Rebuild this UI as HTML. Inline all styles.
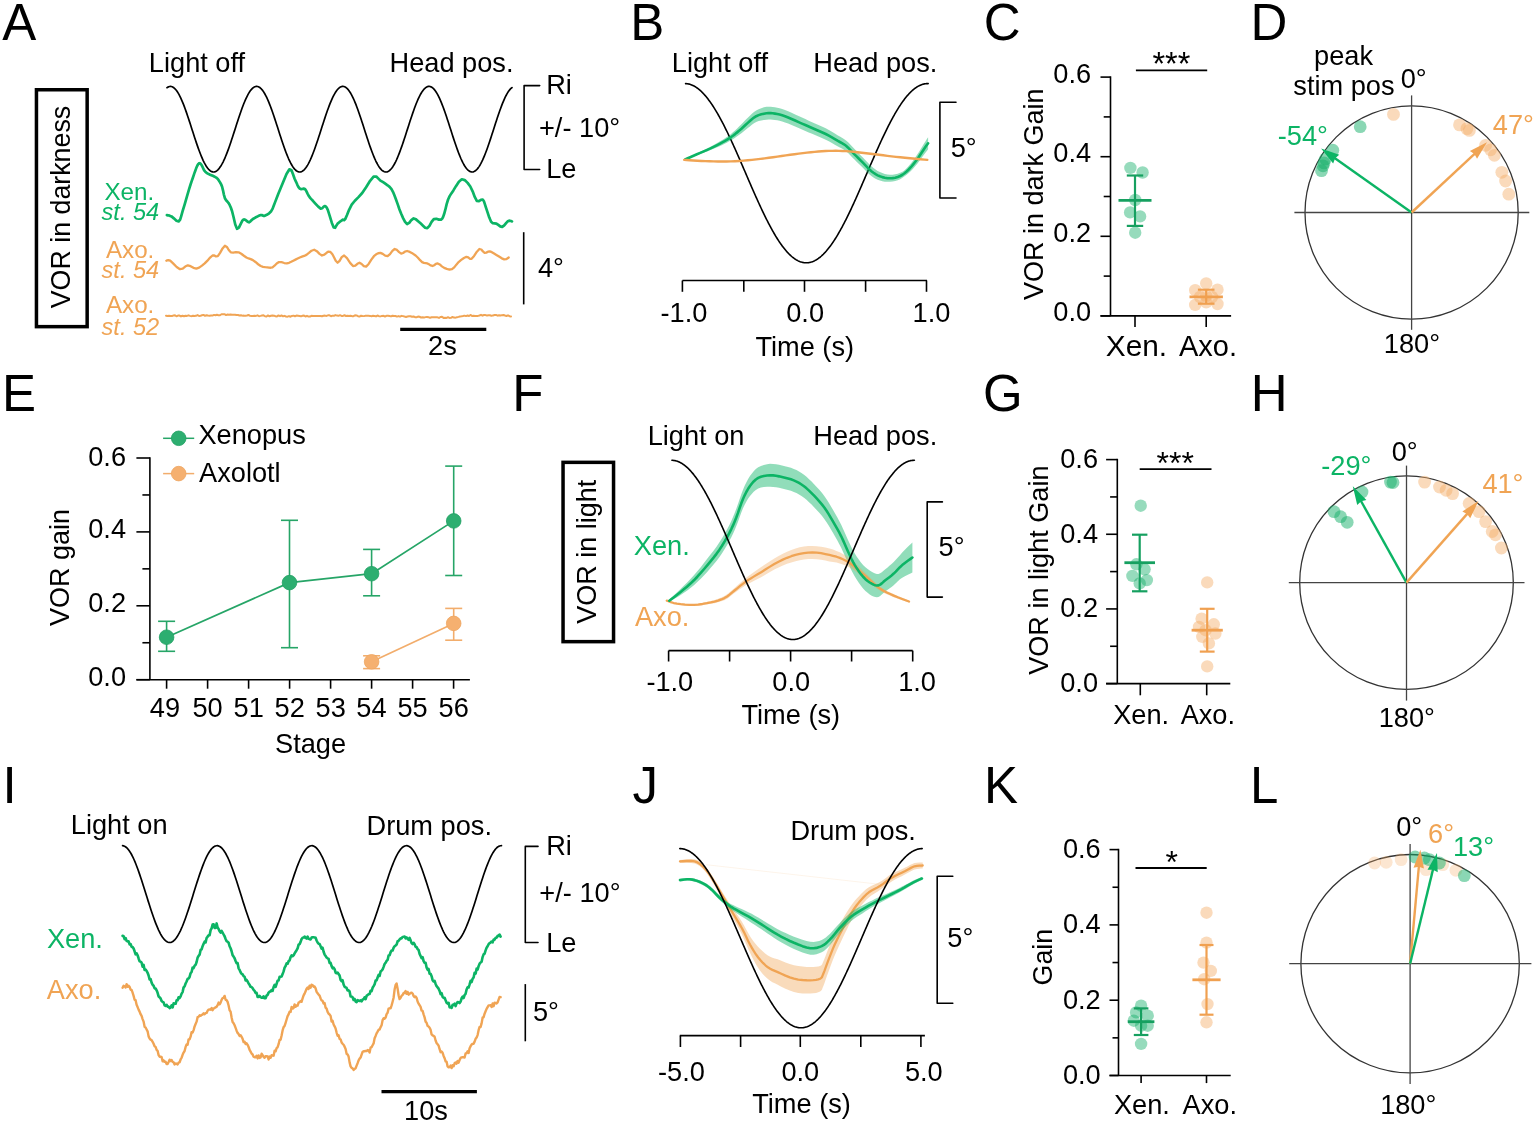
<!DOCTYPE html>
<html><head><meta charset="utf-8"><title>VOR figure</title>
<style>
html,body{margin:0;padding:0;background:#fff;}
svg{display:block;}
text{font-family:"Liberation Sans",Arial,sans-serif;}
</style></head><body>
<svg width="1535" height="1123" viewBox="0 0 1535 1123" font-family="Liberation Sans, Arial, sans-serif" font-size="27.2">
<rect width="1535" height="1123" fill="#fff"/>
<text x="2.3" y="39.8" font-size="51">A</text>
<text x="148.87" y="71.7">Light off</text>
<text x="389.57" y="71.7">Head pos.</text>
<text x="546.17" y="94">Ri</text>
<text x="538.97" y="137.4">+/- 10°</text>
<text x="546.17" y="177.8">Le</text>
<path d="M539.7 85.6 L524.1 85.6 L524.1 169.5 L539.7 169.5" fill="none" stroke="#000" stroke-width="1.6" stroke-linejoin="round" stroke-linecap="round"/>
<path d="M167 87.71 L167.86 87.13 L168.72 86.72 L169.59 86.48 L170.45 86.4 L171.31 86.49 L172.18 86.76 L173.04 87.19 L173.9 87.79 L174.76 88.55 L175.62 89.47 L176.49 90.54 L177.35 91.78 L178.21 93.15 L179.07 94.68 L179.94 96.33 L180.8 98.12 L181.66 100.03 L182.53 102.06 L183.39 104.19 L184.25 106.42 L185.11 108.74 L185.97 111.14 L186.84 113.62 L187.7 116.15 L188.56 118.74 L189.43 121.37 L190.29 124.03 L191.15 126.71 L192.01 129.39 L192.88 132.08 L193.74 134.76 L194.6 137.42 L195.46 140.04 L196.32 142.62 L197.19 145.15 L198.05 147.61 L198.91 150 L199.78 152.31 L200.64 154.53 L201.5 156.64 L202.36 158.65 L203.22 160.55 L204.09 162.32 L204.95 163.95 L205.81 165.45 L206.68 166.81 L207.54 168.02 L208.4 169.08 L209.26 169.97 L210.12 170.71 L210.99 171.28 L211.85 171.69 L212.71 171.93 L213.57 172 L214.44 171.9 L215.3 171.63 L216.16 171.2 L217.03 170.59 L217.89 169.83 L218.75 168.9 L219.61 167.82 L220.47 166.59 L221.34 165.2 L222.2 163.68 L223.06 162.02 L223.93 160.23 L224.79 158.31 L225.65 156.28 L226.51 154.15 L227.38 151.91 L228.24 149.59 L229.1 147.19 L229.96 144.71 L230.82 142.17 L231.69 139.59 L232.55 136.96 L233.41 134.3 L234.28 131.62 L235.14 128.93 L236 126.24 L236.86 123.56 L237.72 120.91 L238.59 118.29 L239.45 115.71 L240.31 113.18 L241.18 110.72 L242.04 108.33 L242.9 106.02 L243.76 103.81 L244.62 101.7 L245.49 99.69 L246.35 97.8 L247.21 96.03 L248.07 94.4 L248.94 92.9 L249.8 91.55 L250.66 90.35 L251.53 89.3 L252.39 88.4 L253.25 87.67 L254.11 87.1 L254.97 86.7 L255.84 86.47 L256.7 86.4 L257.56 86.51 L258.43 86.78 L259.29 87.22 L260.15 87.82 L261.01 88.59 L261.88 89.52 L262.74 90.61 L263.6 91.85 L264.46 93.24 L265.32 94.77 L266.19 96.43 L267.05 98.23 L267.91 100.14 L268.77 102.18 L269.64 104.31 L270.5 106.55 L271.36 108.88 L272.23 111.28 L273.09 113.76 L273.95 116.3 L274.81 118.89 L275.68 121.52 L276.54 124.18 L277.4 126.86 L278.26 129.55 L279.12 132.24 L279.99 134.92 L280.85 137.57 L281.71 140.19 L282.57 142.77 L283.44 145.29 L284.3 147.75 L285.16 150.14 L286.02 152.44 L286.89 154.65 L287.75 156.76 L288.61 158.77 L289.48 160.65 L290.34 162.41 L291.2 164.04 L292.06 165.54 L292.93 166.89 L293.79 168.09 L294.65 169.13 L295.51 170.02 L296.38 170.75 L297.24 171.31 L298.1 171.71 L298.96 171.94 L299.82 172 L300.69 171.89 L301.55 171.61 L302.41 171.17 L303.27 170.56 L304.14 169.78 L305 168.85 L305.86 167.75 L306.73 166.51 L307.59 165.12 L308.45 163.59 L309.31 161.92 L310.18 160.12 L311.04 158.2 L311.9 156.16 L312.76 154.02 L313.62 151.78 L314.49 149.45 L315.35 147.04 L316.21 144.56 L317.07 142.02 L317.94 139.43 L318.8 136.8 L319.66 134.14 L320.52 131.46 L321.39 128.77 L322.25 126.08 L323.11 123.41 L323.98 120.75 L324.84 118.14 L325.7 115.56 L326.56 113.04 L327.43 110.58 L328.29 108.2 L329.15 105.89 L330.01 103.68 L330.88 101.58 L331.74 99.58 L332.6 97.69 L333.46 95.94 L334.32 94.31 L335.19 92.82 L336.05 91.48 L336.91 90.28 L337.77 89.24 L338.64 88.35 L339.5 87.63 L340.36 87.07 L341.23 86.68 L342.09 86.46 L342.95 86.4 L343.81 86.52 L344.68 86.8 L345.54 87.25 L346.4 87.87 L347.26 88.64 L348.12 89.58 L348.99 90.68 L349.85 91.93 L350.71 93.32 L351.57 94.86 L352.44 96.53 L353.3 98.34 L354.16 100.26 L355.02 102.3 L355.89 104.44 L356.75 106.68 L357.61 109.02 L358.48 111.43 L359.34 113.91 L360.2 116.45 L361.06 119.04 L361.93 121.67 L362.79 124.34 L363.65 127.02 L364.51 129.71 L365.38 132.39 L366.24 135.07 L367.1 137.72 L367.96 140.34 L368.82 142.91 L369.69 145.43 L370.55 147.89 L371.41 150.27 L372.27 152.57 L373.14 154.78 L374 156.88 L374.86 158.88 L375.73 160.76 L376.59 162.51 L377.45 164.13 L378.31 165.62 L379.18 166.96 L380.04 168.15 L380.9 169.19 L381.76 170.07 L382.62 170.79 L383.49 171.34 L384.35 171.73 L385.21 171.95 L386.07 172 L386.94 171.88 L387.8 171.59 L388.66 171.14 L389.52 170.51 L390.39 169.73 L391.25 168.79 L392.11 167.69 L392.98 166.43 L393.84 165.03 L394.7 163.49 L395.56 161.82 L396.43 160.01 L397.29 158.08 L398.15 156.04 L399.01 153.89 L399.88 151.65 L400.74 149.32 L401.6 146.9 L402.46 144.42 L403.32 141.88 L404.19 139.28 L405.05 136.65 L405.91 133.99 L406.77 131.3 L407.64 128.62 L408.5 125.93 L409.36 123.25 L410.23 120.6 L411.09 117.98 L411.95 115.41 L412.81 112.89 L413.68 110.44 L414.54 108.06 L415.4 105.76 L416.26 103.56 L417.12 101.46 L417.99 99.46 L418.85 97.59 L419.71 95.84 L420.57 94.22 L421.44 92.74 L422.3 91.4 L423.16 90.22 L424.02 89.18 L424.89 88.31 L425.75 87.6 L426.61 87.05 L427.48 86.66 L428.34 86.45 L429.2 86.4 L430.06 86.53 L430.93 86.82 L431.79 87.28 L432.65 87.91 L433.51 88.69 L434.38 89.64 L435.24 90.75 L436.1 92 L436.96 93.41 L437.82 94.95 L438.69 96.63 L439.55 98.44 L440.41 100.37 L441.27 102.42 L442.14 104.57 L443 106.82 L443.86 109.15 L444.73 111.57 L445.59 114.05 L446.45 116.6 L447.31 119.19 L448.18 121.83 L449.04 124.49 L449.9 127.17 L450.76 129.86 L451.62 132.55 L452.49 135.22 L453.35 137.87 L454.21 140.49 L455.07 143.06 L455.94 145.58 L456.8 148.03 L457.66 150.41 L458.52 152.7 L459.39 154.9 L460.25 157 L461.11 158.99 L461.98 160.86 L462.84 162.61 L463.7 164.22 L464.56 165.7 L465.43 167.03 L466.29 168.22 L467.15 169.24 L468.01 170.11 L468.88 170.82 L469.74 171.37 L470.6 171.74 L471.46 171.95 L472.32 171.99 L473.19 171.87 L474.05 171.57 L474.91 171.1 L475.77 170.47 L476.64 169.68 L477.5 168.73 L478.36 167.62 L479.23 166.36 L480.09 164.95 L480.95 163.4 L481.81 161.71 L482.68 159.9 L483.54 157.97 L484.4 155.92 L485.26 153.77 L486.12 151.52 L486.99 149.18 L487.85 146.76 L488.71 144.27 L489.57 141.73 L490.44 139.13 L491.3 136.5 L492.16 133.83 L493.02 131.15 L493.89 128.46 L494.75 125.77 L495.61 123.1 L496.48 120.45 L497.34 117.83 L498.2 115.26 L499.06 112.75 L499.93 110.3 L500.79 107.92 L501.65 105.63 L502.51 103.43 L503.38 101.34 L504.24 99.35 L505.1 97.48 L505.96 95.74 L506.82 94.13 L507.69 92.66 L508.55 91.33 L509.41 90.15 L510.27 89.13 L511.14 88.26 L512 87.56" fill="none" stroke="#000" stroke-width="1.7" stroke-linejoin="round" stroke-linecap="round"/>
<rect x="36.45" y="89.75" width="50.7" height="236.9" fill="none" stroke="#000" stroke-width="3.5"/>
<text transform="translate(69.7 308.32) rotate(-90)" font-size="26.8">VOR in darkness</text>
<text x="104.46" y="200.2" font-size="24.2" fill="#0cb465">Xen.</text>
<text x="101.54" y="220.4" font-size="23.6" fill="#0cb465" font-style="italic">st. 54</text>
<text x="105.95" y="257.7" font-size="24.2" fill="#f0a454">Axo.</text>
<text x="101.54" y="278" font-size="23.6" fill="#f0a454" font-style="italic">st. 54</text>
<text x="105.95" y="313.3" font-size="24.2" fill="#f0a454">Axo.</text>
<text x="101.54" y="334.5" font-size="23.6" fill="#f0a454" font-style="italic">st. 52</text>
<line x1="523.7" y1="232.2" x2="523.7" y2="304.4" stroke="#000" stroke-width="1.6" stroke-linecap="butt"/>
<text x="537.88" y="276.5">4°</text>
<line x1="400.2" y1="329.4" x2="486.3" y2="329.4" stroke="#000" stroke-width="3.3" stroke-linecap="butt"/>
<text x="428.03" y="354.6">2s</text>
<path d="M166.9 215.1 L168 215.3 L169.6 215.64 L171.5 216.4 L173.83 218.36 L176.45 220.72 L178.7 221.4 L180.15 219.57 L181.23 216.04 L182.6 211.2 L184.68 204.3 L187.05 196.08 L189.1 189.1 L190.55 184.51 L191.68 181.17 L192.7 178.2 L193.66 175.37 L194.5 172.92 L195.3 170.7 L196.07 168.62 L196.8 166.78 L197.5 165.3 L198.16 164.23 L198.79 163.53 L199.4 163.2 L200.01 163.32 L200.62 163.81 L201.2 164.5 L201.75 165.37 L202.27 166.42 L202.8 167.5 L203.28 168.57 L203.76 169.66 L204.4 170.7 L205.26 171.67 L206.27 172.59 L207.4 173.4 L208.66 174.06 L210.03 174.63 L211.4 175.2 L212.8 175.84 L214.21 176.49 L215.4 177.1 L216.25 177.61 L216.89 178.1 L217.5 178.7 L218.12 179.42 L218.71 180.27 L219.4 181.4 L220.24 182.74 L221.16 184.38 L222.1 186.7 L222.99 190.31 L223.88 194.6 L224.9 198.2 L226.14 200.3 L227.5 201.71 L228.8 203.4 L229.89 205.44 L230.9 207.78 L232.1 211.2 L233.59 217.3 L235.26 224.5 L237 228.8 L238.9 227.64 L240.86 223.59 L242.5 220.4 L243.53 219.47 L244.24 219.4 L245.1 219.7 L246.3 220.54 L247.65 221.75 L249 222.3 L250.16 221.66 L251.31 220.36 L252.9 219 L255.35 217.57 L258.24 216.08 L260.7 215.1 L262.22 215.19 L263.32 215.79 L264.7 215.8 L266.78 214.83 L269.13 213.26 L271.2 211.2 L272.64 208.64 L273.8 205.59 L275.1 202.1 L276.59 198.31 L278.23 194.08 L280.3 189.1 L283.19 181.92 L286.51 173.99 L289.4 169.3 L291.47 170.31 L293.11 174.56 L294.6 178.7 L296.04 181.81 L297.34 184.81 L298.5 187.1 L299.41 188.31 L300.19 188.82 L301.1 189.1 L302.3 188.98 L303.64 188.64 L305 189.1 L306.33 191.07 L307.67 193.83 L309 196.3 L310.16 197.88 L311.31 199.16 L312.9 200.8 L315.36 203.54 L318.24 206.65 L320.7 208.6 L322.31 208.26 L323.5 206.77 L324.6 206 L325.62 206.31 L326.56 207.34 L327.8 209.9 L329.64 215.55 L331.78 222.72 L333.7 227.5 L335.1 227.79 L336.28 225.7 L337.6 223.6 L339.34 222.18 L341.23 220.76 L342.8 219.7 L343.66 219.77 L344.2 220.2 L345.2 219.1 L346.91 215.22 L349.09 209.81 L351.7 204.7 L354.87 200.77 L358.49 197.14 L362.2 193 L366.1 187.16 L370.11 180.81 L373.6 176.7 L376.27 176.53 L378.42 178.6 L380.4 180.6 L382.23 181.67 L383.87 182.68 L385.6 183.9 L387.57 185.3 L389.61 186.91 L391.5 189.1 L393.08 192.04 L394.5 195.55 L396 199.5 L397.66 204.13 L399.39 209.19 L401.2 213.8 L403.09 218.09 L405.06 221.92 L407.1 224 L409.2 222.9 L411.36 220.05 L413.6 218.4 L415.97 219.36 L418.43 221.51 L420.8 223.6 L423.02 225.69 L425.16 227.7 L427.3 228.2 L429.44 225.82 L431.58 221.92 L433.8 219.1 L436.3 218.82 L438.87 219.62 L441 219.7 L442.34 218.53 L443.23 216.63 L444.2 213.8 L445.4 209.46 L446.67 204.19 L448.1 199.5 L449.65 196.16 L451.35 193.39 L453.4 190.4 L455.97 186.17 L458.88 181.72 L461.8 179.3 L464.7 180.08 L467.61 182.9 L470.3 186.5 L472.64 191.32 L474.75 196.93 L476.8 200.8 L478.91 201.19 L480.96 199.84 L482.7 199.5 L483.89 201.18 L484.79 203.87 L485.9 207.3 L487.48 212.07 L489.29 217.58 L491.1 221.7 L492.84 223.21 L494.59 223.33 L496.4 223.6 L498.29 224.94 L500.24 226.43 L502.2 226.9 L504.23 225.38 L506.28 222.84 L508.1 221 L509.69 220.68 L511.06 221.06 L512 221.4" fill="none" stroke="#0cb465" stroke-width="2.7" stroke-linejoin="round" stroke-linecap="round"/>
<path d="M166.3 260.7 L167.09 260.39 L168.32 260.07 L170.2 260.7 L173.1 263.36 L176.66 266.97 L180 269.2 L182.72 268.55 L185.22 266.53 L187.8 265.3 L190.59 266.18 L193.45 267.86 L196.3 268.6 L199.13 267.6 L201.95 265.65 L204.7 263.4 L207.44 260.65 L210.11 257.6 L212.5 255.5 L214.39 255.51 L215.99 256.47 L217.8 256.2 L220.08 252.93 L222.56 248.43 L224.9 245.8 L226.89 246.96 L228.74 249.99 L230.8 252.3 L233.26 252.59 L235.93 252.16 L238.6 252.3 L241.25 253.74 L243.9 255.77 L246.4 257.5 L248.61 258.44 L250.69 259.09 L252.9 260.1 L255.45 261.99 L258.14 264.25 L260.7 266 L263.04 266.82 L265.25 267.13 L267.3 267.3 L269.09 267.59 L270.72 267.73 L272.5 267.3 L274.52 265.71 L276.69 263.54 L279 262.1 L281.55 262.2 L284.25 263.02 L286.8 263.4 L289.06 262.81 L291.18 261.79 L293.3 260.7 L295.46 259.65 L297.63 258.54 L299.8 257.5 L301.95 256.69 L304.11 255.94 L306.4 254.9 L308.91 252.95 L311.56 250.71 L314.2 249.7 L316.85 251.18 L319.5 253.88 L322 255.5 L324.36 254.68 L326.57 252.78 L328.5 251.6 L329.94 251.77 L331.1 252.66 L332.4 254.2 L333.99 257.18 L335.72 260.81 L337.6 262.7 L339.58 260.81 L341.71 257.17 L344.1 255.5 L346.98 258.2 L350.12 262.87 L353 266 L355.34 265.66 L357.41 263.78 L359.5 262.7 L361.65 264 L363.81 266.09 L366.1 266.6 L368.66 263.93 L371.35 259.67 L373.9 256.2 L376.14 254.33 L378.23 253.25 L380.4 252.9 L382.75 253.9 L385.18 255.63 L387.6 256.2 L390 254.14 L392.38 250.91 L394.7 249 L396.93 249.93 L399.1 252.16 L401.2 253.6 L403.11 253 L404.96 251.61 L407.1 251 L409.81 251.9 L412.82 253.58 L415.6 255.5 L417.96 257.74 L420.1 260.21 L422.1 262.1 L423.93 262.88 L425.61 263.07 L427.3 263.4 L429.03 264.36 L430.77 265.47 L432.5 266 L434.19 265.26 L435.87 263.93 L437.7 263.4 L439.72 264.49 L441.89 266.37 L444.2 267.9 L446.75 268.88 L449.44 269.51 L452 269.2 L454.24 267.39 L456.36 264.64 L458.6 262.1 L461.21 259.93 L463.95 257.96 L466.4 256.8 L468.23 257.36 L469.77 258.74 L471.6 258.8 L474.1 255.9 L476.9 251.69 L479.4 249 L481.33 249.49 L482.96 251.49 L484.6 252.9 L486.28 252.61 L487.96 251.73 L489.8 251.4 L491.85 252.16 L494.06 253.47 L496.4 254.9 L499.03 256.56 L501.8 258.34 L504.2 259.4 L506.11 259.17 L507.66 258.23 L508.7 257.5" fill="none" stroke="#f0a454" stroke-width="2.3" stroke-linejoin="round" stroke-linecap="round"/>
<path d="M166 315.69 L167.5 316.04 L169 315.81 L170.5 316.07 L172 316.08 L173.5 315.39 L175 315.31 L176.5 316.28 L178 315.57 L179.5 315.52 L181 316.42 L182.5 315.77 L184 316.19 L185.5 315.74 L187 315.92 L188.5 315.32 L190 315.88 L191.5 316.14 L193 315.71 L194.5 315.95 L196 315.85 L197.5 315.11 L199 315.92 L200.5 315.69 L202 315.28 L203.5 314.89 L205 315.83 L206.5 315.29 L208 315.52 L209.5 315.65 L211 315.39 L212.5 315.58 L214 314.88 L215.5 315.31 L217 314.81 L218.5 315.34 L220 315.21 L221.5 314.21 L223 314.19 L224.5 314.22 L226 315.06 L227.5 314.48 L229 314.77 L230.5 314.43 L232 314.74 L233.5 314.65 L235 314.67 L236.5 315 L238 315.06 L239.5 315.5 L241 315.29 L242.5 315.65 L244 315.62 L245.5 315.83 L247 315.51 L248.5 314.96 L250 315.85 L251.5 316.03 L253 316.02 L254.5 315.67 L256 315.9 L257.5 315.36 L259 316.16 L260.5 315.89 L262 315.56 L263.5 315.31 L265 316.27 L266.5 316.45 L268 315.39 L269.5 316.26 L271 315.8 L272.5 315.51 L274 315.69 L275.5 316.28 L277 316.42 L278.5 315.44 L280 316.14 L281.5 315.47 L283 316.29 L284.5 315.84 L286 316.52 L287.5 316.65 L289 316.1 L290.5 316.7 L292 315.89 L293.5 315.63 L295 316.27 L296.5 315.6 L298 315.82 L299.5 316.08 L301 316.31 L302.5 315.74 L304 315.57 L305.5 316.53 L307 315.84 L308.5 316.58 L310 316.48 L311.5 315.82 L313 315.89 L314.5 315.93 L316 316.05 L317.5 315.96 L319 315.89 L320.5 315.93 L322 316.29 L323.5 315.74 L325 315.62 L326.5 315.93 L328 315.33 L329.5 315.37 L331 316.19 L332.5 315.66 L334 315.71 L335.5 315.09 L337 315.59 L338.5 315.81 L340 315.16 L341.5 315.89 L343 315.93 L344.5 315.27 L346 315.97 L347.5 315.79 L349 316.07 L350.5 315.7 L352 316.14 L353.5 316.2 L355 315.36 L356.5 315.43 L358 316.18 L359.5 316.55 L361 315.71 L362.5 315.96 L364 316.13 L365.5 315.81 L367 315.87 L368.5 315.82 L370 315.89 L371.5 316.17 L373 315.83 L374.5 315.93 L376 316.41 L377.5 315.52 L379 316.18 L380.5 316.38 L382 315.88 L383.5 315.78 L385 316.49 L386.5 315.82 L388 315.76 L389.5 316.07 L391 316.39 L392.5 315.68 L394 315.96 L395.5 315.98 L397 316.59 L398.5 316.12 L400 316.63 L401.5 315.87 L403 316.13 L404.5 316.58 L406 316.92 L407.5 316.47 L409 316.26 L410.5 316.2 L412 316.76 L413.5 316.41 L415 317.22 L416.5 317.32 L418 316.6 L419.5 316.78 L421 317.48 L422.5 317.35 L424 317.61 L425.5 317.12 L427 316.93 L428.5 317.19 L430 317.85 L431.5 317.21 L433 317.29 L434.5 317.36 L436 317.36 L437.5 317.33 L439 317.93 L440.5 317 L442 316.81 L443.5 317.92 L445 317.84 L446.5 317.95 L448 317.28 L449.5 317.88 L451 317.84 L452.5 316.99 L454 317.6 L455.5 317.64 L457 317.26 L458.5 316.9 L460 316.45 L461.5 316.33 L463 316.01 L464.5 315.64 L466 316.09 L467.5 315.54 L469 315.99 L470.5 314.95 L472 315.96 L473.5 315.7 L475 315.96 L476.5 315.91 L478 315.9 L479.5 315.5 L481 314.81 L482.5 315.67 L484 314.97 L485.5 315.1 L487 315.53 L488.5 315.34 L490 315.2 L491.5 315.81 L493 315.4 L494.5 315.06 L496 314.94 L497.5 315.66 L499 315.18 L500.5 315.57 L502 315.16 L503.5 315.07 L505 315.57 L506.5 316.01 L508 315.34 L509.5 316.18 L511 316.44" fill="none" stroke="#f0a454" stroke-width="2" stroke-linejoin="round" stroke-linecap="round"/>
<text x="630.22" y="39.7" font-size="51">B</text>
<text x="671.77" y="72.3">Light off</text>
<text x="813.37" y="72.3">Head pos.</text>
<path d="M685.6 83.61 L686.21 83.64 L686.81 83.7 L687.42 83.78 L688.03 83.88 L688.63 84 L689.24 84.14 L689.85 84.3 L690.45 84.49 L691.06 84.7 L691.67 84.93 L692.27 85.18 L692.88 85.46 L693.48 85.75 L694.09 86.07 L694.7 86.41 L695.3 86.77 L695.91 87.15 L696.52 87.56 L697.12 87.98 L697.73 88.43 L698.34 88.89 L698.94 89.38 L699.55 89.89 L700.16 90.41 L700.76 90.96 L701.37 91.53 L701.98 92.12 L702.58 92.73 L703.19 93.36 L703.8 94.01 L704.4 94.68 L705.01 95.36 L705.61 96.07 L706.22 96.8 L706.83 97.54 L707.43 98.3 L708.04 99.09 L708.65 99.89 L709.25 100.7 L709.86 101.54 L710.47 102.39 L711.07 103.26 L711.68 104.15 L712.29 105.06 L712.89 105.98 L713.5 106.92 L714.11 107.87 L714.71 108.85 L715.32 109.83 L715.93 110.84 L716.53 111.85 L717.14 112.89 L717.74 113.94 L718.35 115 L718.96 116.08 L719.56 117.17 L720.17 118.27 L720.78 119.39 L721.38 120.52 L721.99 121.67 L722.6 122.82 L723.2 123.99 L723.81 125.18 L724.42 126.37 L725.02 127.58 L725.63 128.79 L726.24 130.02 L726.84 131.26 L727.45 132.51 L728.06 133.77 L728.66 135.04 L729.27 136.31 L729.87 137.6 L730.48 138.9 L731.09 140.2 L731.69 141.51 L732.3 142.83 L732.91 144.16 L733.51 145.5 L734.12 146.84 L734.73 148.19 L735.33 149.54 L735.94 150.9 L736.55 152.27 L737.15 153.64 L737.76 155.02 L738.37 156.4 L738.97 157.78 L739.58 159.17 L740.19 160.56 L740.79 161.96 L741.4 163.35 L742 164.75 L742.61 166.16 L743.22 167.56 L743.82 168.96 L744.43 170.37 L745.04 171.78 L745.64 173.18 L746.25 174.59 L746.86 176 L747.46 177.41 L748.07 178.81 L748.68 180.21 L749.28 181.62 L749.89 183.02 L750.5 184.41 L751.1 185.81 L751.71 187.2 L752.32 188.59 L752.92 189.97 L753.53 191.35 L754.13 192.73 L754.74 194.1 L755.35 195.47 L755.95 196.83 L756.56 198.18 L757.17 199.53 L757.77 200.87 L758.38 202.21 L758.99 203.54 L759.59 204.86 L760.2 206.17 L760.81 207.47 L761.41 208.77 L762.02 210.06 L762.63 211.34 L763.23 212.61 L763.84 213.86 L764.45 215.11 L765.05 216.35 L765.66 217.58 L766.26 218.8 L766.87 220 L767.48 221.2 L768.08 222.38 L768.69 223.55 L769.3 224.71 L769.9 225.85 L770.51 226.99 L771.12 228.1 L771.72 229.21 L772.33 230.3 L772.94 231.38 L773.54 232.44 L774.15 233.49 L774.76 234.52 L775.36 235.54 L775.97 236.55 L776.58 237.53 L777.18 238.51 L777.79 239.46 L778.39 240.4 L779 241.32 L779.61 242.23 L780.21 243.12 L780.82 243.99 L781.43 244.84 L782.03 245.68 L782.64 246.5 L783.25 247.3 L783.85 248.08 L784.46 248.84 L785.07 249.59 L785.67 250.31 L786.28 251.02 L786.89 251.71 L787.49 252.38 L788.1 253.03 L788.71 253.66 L789.31 254.27 L789.92 254.86 L790.52 255.42 L791.13 255.97 L791.74 256.5 L792.34 257.01 L792.95 257.5 L793.56 257.96 L794.16 258.41 L794.77 258.83 L795.38 259.24 L795.98 259.62 L796.59 259.98 L797.2 260.32 L797.8 260.64 L798.41 260.94 L799.02 261.21 L799.62 261.46 L800.23 261.69 L800.84 261.9 L801.44 262.09 L802.05 262.26 L802.65 262.4 L803.26 262.52 L803.87 262.62 L804.47 262.7 L805.08 262.76 L805.69 262.79 L806.29 262.8 L806.9 262.79 L807.51 262.76 L808.11 262.7 L808.72 262.62 L809.33 262.52 L809.93 262.4 L810.54 262.26 L811.15 262.1 L811.75 261.91 L812.36 261.7 L812.97 261.47 L813.57 261.22 L814.18 260.94 L814.78 260.65 L815.39 260.33 L816 259.99 L816.6 259.63 L817.21 259.25 L817.82 258.84 L818.42 258.42 L819.03 257.97 L819.64 257.51 L820.24 257.02 L820.85 256.51 L821.46 255.99 L822.06 255.44 L822.67 254.87 L823.28 254.28 L823.88 253.67 L824.49 253.04 L825.1 252.39 L825.7 251.72 L826.31 251.04 L826.91 250.33 L827.52 249.6 L828.13 248.86 L828.73 248.1 L829.34 247.31 L829.95 246.51 L830.55 245.7 L831.16 244.86 L831.77 244.01 L832.37 243.14 L832.98 242.25 L833.59 241.34 L834.19 240.42 L834.8 239.48 L835.41 238.53 L836.01 237.55 L836.62 236.57 L837.23 235.56 L837.83 234.55 L838.44 233.51 L839.04 232.46 L839.65 231.4 L840.26 230.32 L840.86 229.23 L841.47 228.13 L842.08 227.01 L842.68 225.88 L843.29 224.73 L843.9 223.58 L844.5 222.41 L845.11 221.22 L845.72 220.03 L846.32 218.82 L846.93 217.61 L847.54 216.38 L848.14 215.14 L848.75 213.89 L849.36 212.63 L849.96 211.36 L850.57 210.09 L851.17 208.8 L851.78 207.5 L852.39 206.2 L852.99 204.89 L853.6 203.57 L854.21 202.24 L854.81 200.9 L855.42 199.56 L856.03 198.21 L856.63 196.86 L857.24 195.5 L857.85 194.13 L858.45 192.76 L859.06 191.38 L859.67 190 L860.27 188.62 L860.88 187.23 L861.49 185.84 L862.09 184.44 L862.7 183.05 L863.3 181.65 L863.91 180.24 L864.52 178.84 L865.12 177.44 L865.73 176.03 L866.34 174.62 L866.94 173.22 L867.55 171.81 L868.16 170.4 L868.76 168.99 L869.37 167.59 L869.98 166.19 L870.58 164.78 L871.19 163.38 L871.8 161.99 L872.4 160.59 L873.01 159.2 L873.62 157.81 L874.22 156.43 L874.83 155.05 L875.43 153.67 L876.04 152.3 L876.65 150.93 L877.25 149.57 L877.86 148.22 L878.47 146.87 L879.07 145.53 L879.68 144.19 L880.29 142.86 L880.89 141.54 L881.5 140.23 L882.11 138.93 L882.71 137.63 L883.32 136.34 L883.93 135.06 L884.53 133.79 L885.14 132.54 L885.75 131.29 L886.35 130.05 L886.96 128.82 L887.56 127.6 L888.17 126.4 L888.78 125.2 L889.38 124.02 L889.99 122.85 L890.6 121.69 L891.2 120.55 L891.81 119.41 L892.42 118.3 L893.02 117.19 L893.63 116.1 L894.24 115.02 L894.84 113.96 L895.45 112.91 L896.06 111.88 L896.66 110.86 L897.27 109.85 L897.88 108.87 L898.48 107.89 L899.09 106.94 L899.69 106 L900.3 105.08 L900.91 104.17 L901.51 103.28 L902.12 102.41 L902.73 101.56 L903.33 100.72 L903.94 99.9 L904.55 99.1 L905.15 98.32 L905.76 97.56 L906.37 96.81 L906.97 96.09 L907.58 95.38 L908.19 94.69 L908.79 94.02 L909.4 93.37 L910.01 92.74 L910.61 92.13 L911.22 91.54 L911.82 90.98 L912.43 90.43 L913.04 89.9 L913.64 89.39 L914.25 88.9 L914.86 88.44 L915.46 87.99 L916.07 87.57 L916.68 87.16 L917.28 86.78 L917.89 86.42 L918.5 86.08 L919.1 85.76 L919.71 85.46 L920.32 85.19 L920.92 84.94 L921.53 84.71 L922.13 84.5 L922.74 84.31 L923.35 84.14 L923.95 84 L924.56 83.88 L925.17 83.78 L925.77 83.7 L926.38 83.64 L926.99 83.61 L927.59 83.6 L928.2 83.61" fill="none" stroke="#000" stroke-width="1.6" stroke-linejoin="round" stroke-linecap="round"/>
<path d="M685.1 159.1 L687.18 158.1 L690.15 156.68 L693.55 155.05 L696.9 153.44 L700.22 151.87 L703.7 150.16 L707.18 148.42 L710.5 146.7 L713.65 144.98 L716.72 143.24 L719.62 141.53 L722.3 139.91 L724.66 138.46 L726.76 137.11 L728.75 135.75 L730.8 134.19 L732.92 132.37 L735.05 130.44 L737.17 128.43 L739.3 126.36 L741.43 124.2 L743.56 121.94 L745.68 119.73 L747.8 117.7 L749.86 115.72 L751.89 113.76 L753.98 111.94 L756.2 110.4 L758.66 109.16 L761.29 108.15 L763.93 107.36 L766.4 106.81 L768.61 106.63 L770.66 106.67 L772.7 106.89 L774.9 107.23 L777.23 107.68 L779.63 108.25 L782.19 109 L785 109.98 L788.16 111.27 L791.59 112.82 L795.12 114.48 L798.6 116.08 L801.98 117.6 L805.35 119.11 L808.72 120.63 L812.1 122.15 L815.54 123.67 L819.01 125.19 L822.42 126.73 L825.7 128.32 L828.85 130.02 L831.92 131.81 L834.82 133.56 L837.5 135.17 L839.86 136.51 L841.96 137.67 L843.95 138.89 L846 140.4 L848.13 142.32 L850.26 144.51 L852.38 146.81 L854.5 149.04 L856.6 151.18 L858.7 153.31 L860.8 155.44 L862.9 157.58 L865.02 159.81 L867.14 162.11 L869.27 164.3 L871.4 166.3 L873.49 168.05 L875.55 169.57 L877.66 170.9 L879.9 172.04 L882.31 173.04 L884.84 173.88 L887.43 174.48 L890 174.8 L892.58 174.71 L895.2 174.35 L897.77 173.73 L900.2 172.84 L902.45 171.67 L904.56 170.22 L906.62 168.27 L908.7 166.02 L910.84 163.47 L913.01 160.64 L915.11 157.7 L917.1 154.82 L918.97 151.93 L920.76 148.98 L922.42 146.18 L923.9 143.73 L925.23 141.65 L926.42 139.82 L927.41 138.34 L928.1 137.3 L928.1 149.3 L927.41 150.18 L926.42 151.41 L925.23 152.92 L923.9 154.67 L922.42 156.72 L920.76 159.09 L918.97 161.58 L917.1 163.98 L915.11 166.34 L913.01 168.73 L910.84 170.99 L908.7 172.98 L906.62 174.69 L904.56 176.25 L902.45 177.84 L900.2 179.16 L897.77 180.21 L895.2 181.01 L892.58 181.54 L890 181.8 L887.43 181.87 L884.84 181.65 L882.31 181.2 L879.9 180.56 L877.66 179.75 L875.55 178.74 L873.49 177.53 L871.4 176.1 L869.27 174.32 L867.14 172.2 L865.02 169.98 L862.9 167.82 L860.8 165.75 L858.7 163.69 L856.6 161.63 L854.5 159.56 L852.38 157.4 L850.26 155.17 L848.13 153.05 L846 151.2 L843.95 149.76 L841.96 148.6 L839.86 147.51 L837.5 146.23 L834.82 144.69 L831.92 143.01 L828.85 141.3 L825.7 139.68 L822.42 138.17 L819.01 136.71 L815.54 135.28 L812.1 133.85 L808.72 132.41 L805.35 130.98 L801.98 129.55 L798.6 128.12 L795.12 126.62 L791.59 125.07 L788.16 123.62 L785 122.42 L782.19 121.53 L779.63 120.85 L777.23 120.35 L774.9 119.97 L772.7 119.69 L770.66 119.54 L768.61 119.56 L766.4 119.79 L763.93 120.06 L761.29 120.48 L758.66 121.11 L756.2 122 L753.98 123.23 L751.89 124.74 L749.86 126.41 L747.8 128.1 L745.68 129.83 L743.56 131.56 L741.43 133.25 L739.3 134.84 L737.17 136.34 L735.05 137.79 L732.92 139.15 L730.8 140.41 L728.75 141.58 L726.76 142.68 L724.66 143.74 L722.3 144.89 L719.62 146.15 L716.72 147.46 L713.65 148.8 L710.5 150.1 L707.18 151.38 L703.7 152.65 L700.22 153.9 L696.9 155.16 L693.55 156.45 L690.15 157.76 L687.18 158.9 L685.1 159.7Z" fill="#0cb465" fill-opacity="0.45" stroke="none"/>
<path d="M685.1 159.4 L687.18 158.5 L690.15 157.22 L693.55 155.75 L696.9 154.3 L700.22 152.88 L703.7 151.41 L707.18 149.9 L710.5 148.4 L713.65 146.89 L716.72 145.35 L719.62 143.84 L722.3 142.4 L724.66 141.1 L726.76 139.89 L728.75 138.67 L730.8 137.3 L732.92 135.76 L735.05 134.11 L737.17 132.38 L739.3 130.6 L741.43 128.72 L743.56 126.75 L745.68 124.78 L747.8 122.9 L749.86 121.07 L751.89 119.25 L753.98 117.58 L756.2 116.2 L758.66 115.13 L761.29 114.31 L763.93 113.71 L766.4 113.3 L768.61 113.1 L770.66 113.11 L772.7 113.29 L774.9 113.6 L777.23 114.01 L779.63 114.55 L782.19 115.26 L785 116.2 L788.16 117.44 L791.59 118.94 L795.12 120.55 L798.6 122.1 L801.98 123.57 L805.35 125.04 L808.72 126.52 L812.1 128 L815.54 129.48 L819.01 130.95 L822.42 132.45 L825.7 134 L828.85 135.66 L831.92 137.41 L834.82 139.12 L837.5 140.7 L839.86 142.01 L841.96 143.14 L843.95 144.32 L846 145.8 L848.13 147.69 L850.26 149.84 L852.38 152.1 L854.5 154.3 L856.6 156.4 L858.7 158.5 L860.8 160.6 L862.9 162.7 L865.02 164.9 L867.14 167.16 L869.27 169.31 L871.4 171.2 L873.49 172.79 L875.55 174.16 L877.66 175.32 L879.9 176.3 L882.31 177.12 L884.84 177.76 L887.43 178.18 L890 178.3 L892.58 178.13 L895.2 177.68 L897.77 176.97 L900.2 176 L902.45 174.75 L904.56 173.24 L906.62 171.48 L908.7 169.5 L910.84 167.23 L913.01 164.68 L915.11 162.02 L917.1 159.4 L918.97 156.76 L920.76 154.04 L922.42 151.45 L923.9 149.2 L925.23 147.28 L926.42 145.61 L927.41 144.26 L928.1 143.3" fill="none" stroke="#0cb465" stroke-width="2.6" stroke-linejoin="round" stroke-linecap="round"/>
<path d="M684.2 159.9 L686.46 160.04 L689.54 160.24 L693.21 160.48 L697.24 160.72 L701.38 160.94 L705.4 161.1 L709.39 161.23 L713.56 161.35 L717.84 161.45 L722.18 161.5 L726.52 161.49 L730.8 161.4 L735.03 161.22 L739.27 160.96 L743.5 160.63 L747.73 160.26 L751.97 159.84 L756.2 159.4 L760.43 158.91 L764.67 158.37 L768.9 157.79 L773.13 157.19 L777.37 156.58 L781.6 156 L785.87 155.41 L790.19 154.8 L794.51 154.19 L798.79 153.61 L802.96 153.07 L807 152.6 L810.88 152.19 L814.64 151.83 L818.31 151.51 L821.91 151.24 L825.47 151.04 L829 150.9 L832.43 150.83 L835.73 150.81 L838.99 150.86 L842.29 150.97 L845.73 151.15 L849.4 151.4 L853.34 151.74 L857.5 152.19 L861.79 152.69 L866.15 153.24 L870.51 153.78 L874.8 154.3 L879.01 154.8 L883.2 155.31 L887.39 155.82 L891.61 156.33 L895.87 156.82 L900.2 157.3 L904.93 157.79 L910.11 158.29 L915.34 158.79 L920.21 159.24 L924.33 159.62 L927.3 159.9" fill="none" stroke="#f0a454" stroke-width="2.4" stroke-linejoin="round" stroke-linecap="round"/>
<path d="M956 102.3 L939.9 102.3 L939.9 198 L956 198" fill="none" stroke="#000" stroke-width="1.6" stroke-linejoin="round" stroke-linecap="round"/>
<text x="950.71" y="157.2">5°</text>
<line x1="682.4" y1="280.5" x2="927" y2="280.5" stroke="#000" stroke-width="1.6" stroke-linecap="butt"/>
<line x1="682.4" y1="280.5" x2="682.4" y2="291.8" stroke="#000" stroke-width="1.6" stroke-linecap="butt"/>
<line x1="743.8" y1="280.5" x2="743.8" y2="291.8" stroke="#000" stroke-width="1.6" stroke-linecap="butt"/>
<line x1="804.5" y1="280.5" x2="804.5" y2="291.8" stroke="#000" stroke-width="1.6" stroke-linecap="butt"/>
<line x1="865.6" y1="280.5" x2="865.6" y2="291.8" stroke="#000" stroke-width="1.6" stroke-linecap="butt"/>
<line x1="926.5" y1="280.5" x2="926.5" y2="291.8" stroke="#000" stroke-width="1.6" stroke-linecap="butt"/>
<text x="660.49" y="322.3">-1.0</text>
<text x="786.24" y="322.3">0.0</text>
<text x="912.53" y="322.3">1.0</text>
<text x="755.39" y="355.6">Time (s)</text>
<text x="983.71" y="39.7" font-size="51">C</text>
<line x1="1110.5" y1="76.3" x2="1110.5" y2="315.9" stroke="#000" stroke-width="1.6" stroke-linecap="butt"/>
<line x1="1100.5" y1="315.9" x2="1110.5" y2="315.9" stroke="#000" stroke-width="1.6" stroke-linecap="butt"/>
<line x1="1103.7" y1="276.1" x2="1110.5" y2="276.1" stroke="#000" stroke-width="1.6" stroke-linecap="butt"/>
<line x1="1100.5" y1="236.3" x2="1110.5" y2="236.3" stroke="#000" stroke-width="1.6" stroke-linecap="butt"/>
<line x1="1103.7" y1="196.5" x2="1110.5" y2="196.5" stroke="#000" stroke-width="1.6" stroke-linecap="butt"/>
<line x1="1100.5" y1="156.7" x2="1110.5" y2="156.7" stroke="#000" stroke-width="1.6" stroke-linecap="butt"/>
<line x1="1103.7" y1="116.9" x2="1110.5" y2="116.9" stroke="#000" stroke-width="1.6" stroke-linecap="butt"/>
<line x1="1100.5" y1="77.1" x2="1110.5" y2="77.1" stroke="#000" stroke-width="1.6" stroke-linecap="butt"/>
<line x1="1100.5" y1="315.9" x2="1231.1" y2="315.9" stroke="#000" stroke-width="1.6" stroke-linecap="butt"/>
<line x1="1135" y1="315.9" x2="1135" y2="326.9" stroke="#000" stroke-width="1.6" stroke-linecap="butt"/>
<line x1="1206.2" y1="315.9" x2="1206.2" y2="326.9" stroke="#000" stroke-width="1.6" stroke-linecap="butt"/>
<text x="1053.34" y="82.6">0.6</text>
<text x="1053.34" y="162">0.4</text>
<text x="1053.34" y="241.6">0.2</text>
<text x="1053.34" y="321">0.0</text>
<text transform="translate(1043 300.02) rotate(-90)" font-size="27">VOR in dark Gain</text>
<text x="1105.83" y="356" font-size="29.8">Xen.</text>
<text x="1179.04" y="356" font-size="29">Axo.</text>
<line x1="1135.9" y1="70.4" x2="1207.2" y2="70.4" stroke="#000" stroke-width="1.9" stroke-linecap="butt"/>
<text x="1152.38" y="75.2" font-size="32.5">***</text>
<circle cx="1130.4" cy="167.9" r="6.2" fill="#16b06a" fill-opacity="0.45"/>
<circle cx="1142.6" cy="172.5" r="6.2" fill="#16b06a" fill-opacity="0.45"/>
<circle cx="1135.2" cy="200" r="6.2" fill="#16b06a" fill-opacity="0.45"/>
<circle cx="1130.1" cy="212.4" r="6.2" fill="#16b06a" fill-opacity="0.45"/>
<circle cx="1140.1" cy="216.4" r="6.2" fill="#16b06a" fill-opacity="0.45"/>
<circle cx="1135.2" cy="232.7" r="6.2" fill="#16b06a" fill-opacity="0.45"/>
<circle cx="1206.2" cy="283.4" r="6.2" fill="#f4ac68" fill-opacity="0.45"/>
<circle cx="1195.2" cy="290.2" r="6.2" fill="#f4ac68" fill-opacity="0.45"/>
<circle cx="1217.5" cy="289.7" r="6.2" fill="#f4ac68" fill-opacity="0.45"/>
<circle cx="1195.2" cy="304.9" r="6.2" fill="#f4ac68" fill-opacity="0.45"/>
<circle cx="1206.2" cy="302.4" r="6.2" fill="#f4ac68" fill-opacity="0.45"/>
<circle cx="1217.5" cy="304" r="6.2" fill="#f4ac68" fill-opacity="0.45"/>
<circle cx="1206.2" cy="296" r="6.2" fill="#f4ac68" fill-opacity="0.45"/>
<circle cx="1200" cy="297" r="6.2" fill="#f4ac68" fill-opacity="0.45"/>
<circle cx="1212" cy="297" r="6.2" fill="#f4ac68" fill-opacity="0.45"/>
<line x1="1135" y1="175.5" x2="1135" y2="225.9" stroke="#16a060" stroke-width="2.2" stroke-linecap="butt"/>
<line x1="1126.8" y1="175.5" x2="1143.2" y2="175.5" stroke="#16a060" stroke-width="2.2" stroke-linecap="butt"/>
<line x1="1126.8" y1="225.9" x2="1143.2" y2="225.9" stroke="#16a060" stroke-width="2.2" stroke-linecap="butt"/>
<line x1="1118.5" y1="200.4" x2="1151.5" y2="200.4" stroke="#16a060" stroke-width="2.8" stroke-linecap="butt"/>
<line x1="1206.2" y1="289.7" x2="1206.2" y2="303.7" stroke="#f0a050" stroke-width="2.2" stroke-linecap="butt"/>
<line x1="1197.9" y1="289.7" x2="1214.5" y2="289.7" stroke="#f0a050" stroke-width="2.2" stroke-linecap="butt"/>
<line x1="1197.9" y1="303.7" x2="1214.5" y2="303.7" stroke="#f0a050" stroke-width="2.2" stroke-linecap="butt"/>
<line x1="1189.5" y1="296.9" x2="1222.9" y2="296.9" stroke="#f0a050" stroke-width="2.8" stroke-linecap="butt"/>
<text x="1250.62" y="39.7" font-size="51">D</text>
<text x="1314.05" y="65.2">peak</text>
<text x="1293.34" y="95.4">stim pos</text>
<text x="1400.74" y="87.9">0°</text>
<text x="1383.83" y="353">180°</text>
<text x="1277.79" y="144.5" fill="#0cb465">-54°</text>
<text x="1492.78" y="134.1" fill="#f0a454">47°</text>
<circle cx="1411.6" cy="212.5" r="106.6" fill="none" stroke="#333" stroke-width="1.3"/>
<line x1="1294.4" y1="212.5" x2="1529.3" y2="212.5" stroke="#444" stroke-width="1.3" stroke-linecap="butt"/>
<line x1="1411.6" y1="95.4" x2="1411.6" y2="329.8" stroke="#444" stroke-width="1.3" stroke-linecap="butt"/>
<circle cx="1360.2" cy="126.7" r="6.4" fill="#16b06a" fill-opacity="0.5"/>
<circle cx="1332.8" cy="150.2" r="6.4" fill="#16b06a" fill-opacity="0.5"/>
<circle cx="1325.5" cy="159" r="6.4" fill="#16b06a" fill-opacity="0.5"/>
<circle cx="1324" cy="162.9" r="6.4" fill="#16b06a" fill-opacity="0.5"/>
<circle cx="1323" cy="165.8" r="6.4" fill="#16b06a" fill-opacity="0.5"/>
<circle cx="1321.5" cy="170.7" r="6.4" fill="#16b06a" fill-opacity="0.5"/>
<circle cx="1393.5" cy="114.4" r="6.4" fill="#f4ac68" fill-opacity="0.45"/>
<circle cx="1459.5" cy="124.9" r="6.4" fill="#f4ac68" fill-opacity="0.45"/>
<circle cx="1466.9" cy="128.6" r="6.4" fill="#f4ac68" fill-opacity="0.45"/>
<circle cx="1469.4" cy="130.4" r="6.4" fill="#f4ac68" fill-opacity="0.45"/>
<circle cx="1485.6" cy="145.3" r="6.4" fill="#f4ac68" fill-opacity="0.45"/>
<circle cx="1490.6" cy="149.8" r="6.4" fill="#f4ac68" fill-opacity="0.45"/>
<circle cx="1494.4" cy="155.3" r="6.4" fill="#f4ac68" fill-opacity="0.45"/>
<circle cx="1501.8" cy="172.3" r="6.4" fill="#f4ac68" fill-opacity="0.45"/>
<circle cx="1505.6" cy="181" r="6.4" fill="#f4ac68" fill-opacity="0.45"/>
<circle cx="1508.8" cy="194.2" r="6.4" fill="#f4ac68" fill-opacity="0.45"/>
<line x1="1411.6" y1="212.5" x2="1333.18" y2="156.95" stroke="#0cb465" stroke-width="2.4" stroke-linecap="butt"/>
<path d="M1321.1 148.4 L1339.23 154.81 L1335.14 158.34 L1333.16 163.38Z" fill="#0cb465"/>
<line x1="1411.6" y1="212.5" x2="1476.17" y2="152.38" stroke="#f0a454" stroke-width="2.4" stroke-linecap="butt"/>
<path d="M1487 142.3 L1477.04 158.75 L1474.41 154.02 L1469.88 151.06Z" fill="#f0a454"/>
<text x="2.12" y="410.7" font-size="51">E</text>
<line x1="163.1" y1="438.3" x2="194.2" y2="438.3" stroke="#26a567" stroke-width="1.5" stroke-linecap="butt"/>
<circle cx="178.7" cy="438.3" r="7.3" fill="#2dae70" stroke="#1fa062" stroke-width="0.8"/>
<text x="198.49" y="444.4">Xenopus</text>
<line x1="163.1" y1="473.6" x2="194.2" y2="473.6" stroke="#f2ad6c" stroke-width="1.5" stroke-linecap="butt"/>
<circle cx="178.7" cy="473.6" r="7.3" fill="#f5b070" stroke="#eea460" stroke-width="0.8"/>
<text x="199.05" y="481.5">Axolotl</text>
<line x1="149.9" y1="457.2" x2="149.9" y2="679.7" stroke="#000" stroke-width="1.6" stroke-linecap="butt"/>
<line x1="136.4" y1="679.7" x2="149.9" y2="679.7" stroke="#000" stroke-width="1.6" stroke-linecap="butt"/>
<line x1="142.4" y1="642.75" x2="149.9" y2="642.75" stroke="#000" stroke-width="1.6" stroke-linecap="butt"/>
<line x1="136.4" y1="605.8" x2="149.9" y2="605.8" stroke="#000" stroke-width="1.6" stroke-linecap="butt"/>
<line x1="142.4" y1="568.85" x2="149.9" y2="568.85" stroke="#000" stroke-width="1.6" stroke-linecap="butt"/>
<line x1="136.4" y1="531.9" x2="149.9" y2="531.9" stroke="#000" stroke-width="1.6" stroke-linecap="butt"/>
<line x1="142.4" y1="494.95" x2="149.9" y2="494.95" stroke="#000" stroke-width="1.6" stroke-linecap="butt"/>
<line x1="136.4" y1="458" x2="149.9" y2="458" stroke="#000" stroke-width="1.6" stroke-linecap="butt"/>
<line x1="136.4" y1="679.7" x2="469.9" y2="679.7" stroke="#000" stroke-width="1.6" stroke-linecap="butt"/>
<line x1="166.6" y1="679.7" x2="166.6" y2="688.7" stroke="#000" stroke-width="1.6" stroke-linecap="butt"/>
<text x="149.8" y="716.6">49</text>
<line x1="207.6" y1="679.7" x2="207.6" y2="688.7" stroke="#000" stroke-width="1.6" stroke-linecap="butt"/>
<text x="192.46" y="716.6">50</text>
<line x1="248.6" y1="679.7" x2="248.6" y2="688.7" stroke="#000" stroke-width="1.6" stroke-linecap="butt"/>
<text x="233.59" y="716.6">51</text>
<line x1="289.6" y1="679.7" x2="289.6" y2="688.7" stroke="#000" stroke-width="1.6" stroke-linecap="butt"/>
<text x="274.61" y="716.6">52</text>
<line x1="330.6" y1="679.7" x2="330.6" y2="688.7" stroke="#000" stroke-width="1.6" stroke-linecap="butt"/>
<text x="315.53" y="716.6">53</text>
<line x1="371.6" y1="679.7" x2="371.6" y2="688.7" stroke="#000" stroke-width="1.6" stroke-linecap="butt"/>
<text x="356.33" y="716.6">54</text>
<line x1="412.6" y1="679.7" x2="412.6" y2="688.7" stroke="#000" stroke-width="1.6" stroke-linecap="butt"/>
<text x="397.5" y="716.6">55</text>
<line x1="453.6" y1="679.7" x2="453.6" y2="688.7" stroke="#000" stroke-width="1.6" stroke-linecap="butt"/>
<text x="438.53" y="716.6">56</text>
<text x="88.24" y="466.4">0.6</text>
<text x="88.24" y="538.3">0.4</text>
<text x="88.24" y="612.3">0.2</text>
<text x="88.24" y="686.3">0.0</text>
<text x="275.06" y="752.5">Stage</text>
<text transform="translate(69 625.92) rotate(-90)" font-size="27">VOR gain</text>
<path d="M166.6 637.2 L289.5 582.6 L371.6 573.7 L453.7 520.9" fill="none" stroke="#26a567" stroke-width="1.7" stroke-linejoin="round" stroke-linecap="round"/>
<path d="M371.6 661.8 L453.7 623.4" fill="none" stroke="#f2ad6c" stroke-width="1.7" stroke-linejoin="round" stroke-linecap="round"/>
<line x1="166.6" y1="621.3" x2="166.6" y2="651.3" stroke="#26a567" stroke-width="1.6" stroke-linecap="butt"/>
<line x1="158.1" y1="621.3" x2="175.1" y2="621.3" stroke="#26a567" stroke-width="1.6" stroke-linecap="butt"/>
<line x1="158.1" y1="651.3" x2="175.1" y2="651.3" stroke="#26a567" stroke-width="1.6" stroke-linecap="butt"/>
<line x1="289.5" y1="520.3" x2="289.5" y2="647.7" stroke="#26a567" stroke-width="1.6" stroke-linecap="butt"/>
<line x1="281" y1="520.3" x2="298" y2="520.3" stroke="#26a567" stroke-width="1.6" stroke-linecap="butt"/>
<line x1="281" y1="647.7" x2="298" y2="647.7" stroke="#26a567" stroke-width="1.6" stroke-linecap="butt"/>
<line x1="371.6" y1="549.4" x2="371.6" y2="595.8" stroke="#26a567" stroke-width="1.6" stroke-linecap="butt"/>
<line x1="363.1" y1="549.4" x2="380.1" y2="549.4" stroke="#26a567" stroke-width="1.6" stroke-linecap="butt"/>
<line x1="363.1" y1="595.8" x2="380.1" y2="595.8" stroke="#26a567" stroke-width="1.6" stroke-linecap="butt"/>
<line x1="453.7" y1="466.1" x2="453.7" y2="575.5" stroke="#26a567" stroke-width="1.6" stroke-linecap="butt"/>
<line x1="445.2" y1="466.1" x2="462.2" y2="466.1" stroke="#26a567" stroke-width="1.6" stroke-linecap="butt"/>
<line x1="445.2" y1="575.5" x2="462.2" y2="575.5" stroke="#26a567" stroke-width="1.6" stroke-linecap="butt"/>
<line x1="371.6" y1="655.8" x2="371.6" y2="668.6" stroke="#f2ad6c" stroke-width="1.6" stroke-linecap="butt"/>
<line x1="363.1" y1="655.8" x2="380.1" y2="655.8" stroke="#f2ad6c" stroke-width="1.6" stroke-linecap="butt"/>
<line x1="363.1" y1="668.6" x2="380.1" y2="668.6" stroke="#f2ad6c" stroke-width="1.6" stroke-linecap="butt"/>
<line x1="453.7" y1="608.4" x2="453.7" y2="640.2" stroke="#f2ad6c" stroke-width="1.6" stroke-linecap="butt"/>
<line x1="445.2" y1="608.4" x2="462.2" y2="608.4" stroke="#f2ad6c" stroke-width="1.6" stroke-linecap="butt"/>
<line x1="445.2" y1="640.2" x2="462.2" y2="640.2" stroke="#f2ad6c" stroke-width="1.6" stroke-linecap="butt"/>
<circle cx="166.6" cy="637.2" r="7.3" fill="#2dae70" stroke="#1fa062" stroke-width="0.8"/>
<circle cx="289.5" cy="582.6" r="7.3" fill="#2dae70" stroke="#1fa062" stroke-width="0.8"/>
<circle cx="371.6" cy="573.7" r="7.3" fill="#2dae70" stroke="#1fa062" stroke-width="0.8"/>
<circle cx="453.7" cy="520.9" r="7.3" fill="#2dae70" stroke="#1fa062" stroke-width="0.8"/>
<circle cx="371.6" cy="661.8" r="7.3" fill="#f5b070" stroke="#eea460" stroke-width="0.8"/>
<circle cx="453.7" cy="623.4" r="7.3" fill="#f5b070" stroke="#eea460" stroke-width="0.8"/>
<text x="512.32" y="410.6" font-size="51">F</text>
<text x="647.67" y="445.1">Light on</text>
<text x="813.27" y="445.1">Head pos.</text>
<rect x="563.05" y="462.35" width="50.5" height="179.3" fill="none" stroke="#000" stroke-width="3.5"/>
<text transform="translate(596.2 623.72) rotate(-90)" font-size="27">VOR in light</text>
<text x="633.79" y="555.1" fill="#0cb465">Xen.</text>
<text x="634.95" y="626.3" fill="#f0a454">Axo.</text>
<path d="M669.3 599.65 L671.22 597.85 L673.95 595.29 L677.11 592.29 L680.3 589.16 L683.52 586.04 L686.94 582.68 L690.45 579.09 L693.9 575.31 L697.32 571.35 L700.76 567.13 L704.14 562.81 L707.4 558.57 L710.53 554.61 L713.56 550.68 L716.49 546.71 L719.3 542.6 L722.03 538.25 L724.67 533.75 L727.15 529.25 L729.4 524.94 L731.33 520.92 L733.01 517.11 L734.58 513.25 L736.2 509.08 L737.9 504.34 L739.6 499.23 L741.3 494.21 L743 489.7 L744.66 485.84 L746.3 482.38 L747.99 479.23 L749.8 476.32 L751.71 473.63 L753.68 471.19 L755.82 469.06 L758.2 467.29 L760.93 465.92 L763.93 464.92 L767.04 464.23 L770.1 463.8 L773.08 463.88 L776.06 464.28 L779.03 464.85 L782 465.5 L784.99 466.17 L788.01 466.94 L790.96 467.83 L793.8 468.9 L796.46 470.12 L799.01 471.47 L801.49 473.02 L804 474.8 L806.53 476.85 L809.05 479.13 L811.57 481.6 L814.1 484.2 L816.68 486.94 L819.3 489.84 L821.87 492.87 L824.3 496 L826.55 499.24 L828.66 502.59 L830.72 506.05 L832.8 509.6 L834.94 513.29 L837.11 517.1 L839.21 520.96 L841.2 524.8 L843.01 528.64 L844.7 532.5 L846.34 536.31 L848 540 L849.66 543.55 L851.29 547.01 L852.98 550.36 L854.8 553.6 L856.81 556.76 L858.95 559.87 L861.14 562.75 L863.3 565.26 L865.44 567.35 L867.61 569.12 L869.71 570.57 L871.7 571.71 L873.51 572.75 L875.2 573.53 L876.84 573.94 L878.5 573.9 L880.16 573.27 L881.8 572.13 L883.49 570.73 L885.3 569.28 L887.29 567.63 L889.39 565.87 L891.56 564 L893.7 562.02 L895.78 559.86 L897.84 557.55 L899.95 555.21 L902.2 552.55 L904.87 549.74 L907.83 546.81 L910.53 544.21 L912.4 542.5 L912.4 572.5 L910.53 573.48 L907.83 574.73 L904.87 576.18 L902.2 577.65 L899.95 579.2 L897.84 581.26 L895.78 583.3 L893.7 585.18 L891.56 586.88 L889.39 588.46 L887.29 589.93 L885.3 591.32 L883.49 592.96 L881.8 594.62 L880.16 596.01 L878.5 596.9 L876.84 597.2 L875.2 597.04 L873.51 596.52 L871.7 595.69 L869.71 594.43 L867.61 592.86 L865.44 590.97 L863.3 588.74 L861.14 586.11 L858.95 583.1 L856.81 579.87 L854.8 576.6 L852.98 573.36 L851.29 570.01 L849.66 566.55 L848 563 L846.34 559.31 L844.7 555.5 L843.01 551.64 L841.2 547.8 L839.21 543.96 L837.11 540.1 L834.94 536.29 L832.8 532.6 L830.72 529.05 L828.66 525.59 L826.55 522.24 L824.3 519 L821.87 515.87 L819.3 512.84 L816.68 509.94 L814.1 507.2 L811.57 504.6 L809.05 502.13 L806.53 499.85 L804 497.8 L801.49 496.02 L799.01 494.47 L796.46 493.12 L793.8 491.9 L790.96 490.83 L788.01 489.94 L784.99 489.17 L782 488.5 L779.03 487.85 L776.06 487.28 L773.08 486.88 L770.1 486.8 L767.04 486.79 L763.93 487.01 L760.93 487.56 L758.2 488.51 L755.82 489.93 L753.68 491.74 L751.71 493.89 L749.8 496.28 L747.99 498.83 L746.3 501.64 L744.66 504.77 L743 508.3 L741.3 512.47 L739.6 517.15 L737.9 521.92 L736.2 526.32 L734.58 530.16 L733.01 533.71 L731.33 537.19 L729.4 540.86 L727.15 544.88 L724.67 549.05 L722.03 553.21 L719.3 557.2 L716.49 560.95 L713.56 564.54 L710.53 568.07 L707.4 571.63 L704.14 575.15 L700.76 578.69 L697.32 582.12 L693.9 585.29 L690.45 588.08 L686.94 590.66 L683.52 593.04 L680.3 595.24 L677.11 597.24 L673.95 599.09 L671.22 600.66 L669.3 601.75Z" fill="#0cb465" fill-opacity="0.45" stroke="none"/>
<path d="M666.8 600.2 L668.45 600.76 L670.79 601.57 L673.65 602.41 L676.9 603.05 L680.67 603.51 L684.97 603.87 L689.5 604.06 L693.9 603.99 L698.21 603.6 L702.56 602.88 L706.81 601.95 L710.8 600.94 L714.51 599.91 L718.02 598.8 L721.32 597.54 L724.4 596.05 L727.13 594.31 L729.56 592.35 L731.93 590.23 L734.5 588.02 L737.27 585.57 L740.13 582.94 L743.15 580.25 L746.4 577.56 L749.93 574.9 L753.68 572.24 L757.6 569.53 L761.6 566.84 L765.73 564.12 L769.99 561.27 L774.31 558.5 L778.6 556 L782.83 553.8 L787.06 551.8 L791.28 550.05 L795.5 548.57 L799.72 547.37 L803.94 546.57 L808.17 546.07 L812.4 545.9 L816.72 546.13 L821.11 546.72 L825.39 547.53 L829.4 548.4 L833.06 549.58 L836.47 550.88 L839.72 552.32 L842.9 553.99 L845.95 555.86 L848.85 557.92 L851.75 560.2 L854.8 562.78 L858.1 565.74 L861.55 569.06 L865 572.46 L868.3 575.66 L871.35 578.65 L874.25 581.55 L877.15 584.3 L880.2 586.81 L883.42 588.88 L886.74 590.7 L890.16 592.39 L893.7 594.07 L897.76 595.89 L902.19 597.74 L906.21 599.36 L909 600.5 L909 602.5 L906.21 601.56 L902.19 600.21 L897.76 598.66 L893.7 597.13 L890.16 595.69 L886.74 594.24 L883.42 592.64 L880.2 590.79 L877.15 588.75 L874.25 586.47 L871.35 584.03 L868.3 581.54 L865 578.86 L861.55 576.01 L858.1 573.24 L854.8 570.82 L851.75 568.85 L848.85 567.15 L845.95 565.67 L842.9 564.41 L839.72 563.38 L836.47 562.58 L833.06 561.97 L829.4 561.4 L825.39 560.53 L821.11 559.72 L816.72 559.13 L812.4 558.9 L808.17 559.07 L803.94 559.57 L799.72 560.35 L795.5 561.23 L791.28 562.39 L787.06 563.83 L782.83 565.52 L778.6 567.4 L774.31 569.57 L769.99 572.02 L765.73 574.55 L761.6 576.96 L757.6 579.05 L753.68 580.97 L749.93 582.89 L746.4 584.84 L743.15 586.88 L740.13 588.97 L737.27 591.02 L734.5 592.98 L731.93 594.97 L729.56 596.88 L727.13 598.63 L724.4 600.15 L721.32 601.36 L718.02 602.34 L714.51 603.15 L710.8 603.86 L706.81 604.53 L702.56 605.1 L698.21 605.55 L693.9 605.81 L689.5 605.74 L684.97 605.42 L680.67 604.92 L676.9 604.35 L673.65 603.61 L670.79 602.68 L668.45 601.8 L666.8 601.2Z" fill="#f0a454" fill-opacity="0.35" stroke="none"/>
<path d="M666.8 600.7 L668.45 601.28 L670.79 602.13 L673.65 603.01 L676.9 603.7 L680.67 604.21 L684.97 604.64 L689.5 604.9 L693.9 604.9 L698.21 604.58 L702.56 603.99 L706.81 603.24 L710.8 602.4 L714.51 601.53 L718.02 600.57 L721.32 599.45 L724.4 598.1 L727.13 596.47 L729.56 594.61 L731.93 592.6 L734.5 590.5 L737.27 588.29 L740.13 585.96 L743.15 583.56 L746.4 581.2 L749.93 578.9 L753.68 576.61 L757.6 574.29 L761.6 571.9 L765.73 569.33 L769.99 566.64 L774.31 564.03 L778.6 561.7 L782.83 559.66 L787.06 557.82 L791.28 556.22 L795.5 554.9 L799.72 553.86 L803.94 553.07 L808.17 552.57 L812.4 552.4 L816.72 552.63 L821.11 553.22 L825.39 554.03 L829.4 554.9 L833.06 555.77 L836.47 556.73 L839.72 557.85 L842.9 559.2 L845.95 560.77 L848.85 562.53 L851.75 564.53 L854.8 566.8 L858.1 569.49 L861.55 572.54 L865 575.66 L868.3 578.6 L871.35 581.34 L874.25 584.01 L877.15 586.53 L880.2 588.8 L883.42 590.76 L886.74 592.47 L890.16 594.04 L893.7 595.6 L897.76 597.28 L902.19 598.98 L906.21 600.46 L909 601.5" fill="none" stroke="#f0a454" stroke-width="2.3" stroke-linejoin="round" stroke-linecap="round"/>
<path d="M669.3 600.7 L671.22 599.25 L673.95 597.19 L677.11 594.76 L680.3 592.2 L683.52 589.54 L686.94 586.67 L690.45 583.59 L693.9 580.3 L697.32 576.73 L700.76 572.91 L704.14 568.98 L707.4 565.1 L710.53 561.34 L713.56 557.61 L716.49 553.83 L719.3 549.9 L722.03 545.73 L724.67 541.4 L727.15 537.07 L729.4 532.9 L731.33 529.06 L733.01 525.41 L734.58 521.7 L736.2 517.7 L737.9 513.13 L739.6 508.19 L741.3 503.34 L743 499 L744.66 495.3 L746.3 492.01 L747.99 489.03 L749.8 486.3 L751.71 483.76 L753.68 481.47 L755.82 479.49 L758.2 477.9 L760.93 476.74 L763.93 475.97 L767.04 475.51 L770.1 475.3 L773.08 475.38 L776.06 475.78 L779.03 476.35 L782 477 L784.99 477.67 L788.01 478.44 L790.96 479.33 L793.8 480.4 L796.46 481.62 L799.01 482.97 L801.49 484.52 L804 486.3 L806.53 488.35 L809.05 490.63 L811.57 493.1 L814.1 495.7 L816.68 498.44 L819.3 501.34 L821.87 504.37 L824.3 507.5 L826.55 510.74 L828.66 514.09 L830.72 517.55 L832.8 521.1 L834.94 524.79 L837.11 528.6 L839.21 532.46 L841.2 536.3 L843.01 540.14 L844.7 544 L846.34 547.81 L848 551.5 L849.66 555.05 L851.29 558.51 L852.98 561.86 L854.8 565.1 L856.81 568.32 L858.95 571.48 L861.14 574.43 L863.3 577 L865.44 579.16 L867.61 580.99 L869.71 582.5 L871.7 583.7 L873.51 584.64 L875.2 585.29 L876.84 585.57 L878.5 585.4 L880.16 584.64 L881.8 583.38 L883.49 581.85 L885.3 580.3 L887.29 578.78 L889.39 577.16 L891.56 575.44 L893.7 573.6 L895.78 571.58 L897.84 569.41 L899.95 567.2 L902.2 565.1 L904.87 562.96 L907.83 560.77 L910.53 558.84 L912.4 557.5" fill="none" stroke="#0cb465" stroke-width="2.6" stroke-linejoin="round" stroke-linecap="round"/>
<path d="M671.9 460.3 L672.51 460.32 L673.11 460.37 L673.72 460.43 L674.32 460.52 L674.93 460.63 L675.54 460.77 L676.14 460.92 L676.75 461.1 L677.36 461.29 L677.96 461.51 L678.57 461.76 L679.17 462.02 L679.78 462.31 L680.39 462.61 L680.99 462.94 L681.6 463.29 L682.21 463.66 L682.81 464.05 L683.42 464.47 L684.02 464.9 L684.63 465.36 L685.24 465.84 L685.84 466.33 L686.45 466.85 L687.06 467.39 L687.66 467.95 L688.27 468.53 L688.88 469.13 L689.48 469.75 L690.09 470.38 L690.69 471.04 L691.3 471.72 L691.91 472.42 L692.51 473.13 L693.12 473.87 L693.73 474.62 L694.33 475.4 L694.94 476.19 L695.54 477 L696.15 477.82 L696.76 478.67 L697.36 479.53 L697.97 480.41 L698.57 481.31 L699.18 482.22 L699.79 483.15 L700.39 484.1 L701 485.06 L701.61 486.04 L702.21 487.04 L702.82 488.05 L703.42 489.07 L704.03 490.12 L704.64 491.17 L705.24 492.24 L705.85 493.33 L706.46 494.42 L707.06 495.54 L707.67 496.66 L708.27 497.8 L708.88 498.95 L709.49 500.11 L710.09 501.29 L710.7 502.48 L711.31 503.68 L711.91 504.89 L712.52 506.11 L713.12 507.35 L713.73 508.59 L714.34 509.84 L714.94 511.11 L715.55 512.38 L716.16 513.66 L716.76 514.96 L717.37 516.26 L717.98 517.56 L718.58 518.88 L719.19 520.21 L719.79 521.54 L720.4 522.88 L721.01 524.22 L721.61 525.57 L722.22 526.93 L722.82 528.29 L723.43 529.66 L724.04 531.03 L724.64 532.41 L725.25 533.8 L725.86 535.18 L726.46 536.57 L727.07 537.97 L727.67 539.36 L728.28 540.76 L728.89 542.16 L729.49 543.56 L730.1 544.97 L730.71 546.38 L731.31 547.78 L731.92 549.19 L732.52 550.6 L733.13 552 L733.74 553.41 L734.34 554.82 L734.95 556.22 L735.56 557.62 L736.16 559.03 L736.77 560.42 L737.38 561.82 L737.98 563.21 L738.59 564.6 L739.19 565.99 L739.8 567.37 L740.41 568.75 L741.01 570.12 L741.62 571.49 L742.23 572.86 L742.83 574.21 L743.44 575.57 L744.04 576.91 L744.65 578.25 L745.26 579.58 L745.86 580.91 L746.47 582.22 L747.07 583.53 L747.68 584.83 L748.29 586.12 L748.89 587.41 L749.5 588.68 L750.11 589.94 L750.71 591.2 L751.32 592.44 L751.92 593.67 L752.53 594.9 L753.14 596.11 L753.74 597.31 L754.35 598.5 L754.96 599.67 L755.56 600.84 L756.17 601.99 L756.77 603.13 L757.38 604.25 L757.99 605.37 L758.59 606.46 L759.2 607.55 L759.81 608.62 L760.41 609.67 L761.02 610.72 L761.62 611.74 L762.23 612.75 L762.84 613.75 L763.44 614.73 L764.05 615.69 L764.66 616.64 L765.26 617.57 L765.87 618.48 L766.48 619.38 L767.08 620.26 L767.69 621.12 L768.29 621.97 L768.9 622.8 L769.51 623.6 L770.11 624.4 L770.72 625.17 L771.32 625.92 L771.93 626.66 L772.54 627.37 L773.14 628.07 L773.75 628.75 L774.36 629.41 L774.96 630.05 L775.57 630.67 L776.17 631.27 L776.78 631.85 L777.39 632.4 L777.99 632.94 L778.6 633.46 L779.21 633.96 L779.81 634.44 L780.42 634.89 L781.02 635.33 L781.63 635.74 L782.24 636.13 L782.84 636.51 L783.45 636.86 L784.06 637.18 L784.66 637.49 L785.27 637.78 L785.88 638.04 L786.48 638.28 L787.09 638.5 L787.69 638.7 L788.3 638.88 L788.91 639.03 L789.51 639.17 L790.12 639.28 L790.73 639.36 L791.33 639.43 L791.94 639.47 L792.54 639.5 L793.15 639.5 L793.76 639.48 L794.36 639.43 L794.97 639.37 L795.57 639.28 L796.18 639.17 L796.79 639.03 L797.39 638.88 L798 638.7 L798.61 638.51 L799.21 638.29 L799.82 638.04 L800.42 637.78 L801.03 637.49 L801.64 637.19 L802.24 636.86 L802.85 636.51 L803.46 636.14 L804.06 635.75 L804.67 635.33 L805.27 634.9 L805.88 634.44 L806.49 633.96 L807.09 633.47 L807.7 632.95 L808.31 632.41 L808.91 631.85 L809.52 631.27 L810.12 630.67 L810.73 630.05 L811.34 629.42 L811.94 628.76 L812.55 628.08 L813.16 627.38 L813.76 626.67 L814.37 625.93 L814.97 625.18 L815.58 624.4 L816.19 623.61 L816.79 622.8 L817.4 621.98 L818.01 621.13 L818.61 620.27 L819.22 619.39 L819.83 618.49 L820.43 617.58 L821.04 616.65 L821.64 615.7 L822.25 614.74 L822.86 613.76 L823.46 612.76 L824.07 611.75 L824.67 610.73 L825.28 609.68 L825.89 608.63 L826.49 607.56 L827.1 606.47 L827.71 605.38 L828.31 604.26 L828.92 603.14 L829.52 602 L830.13 600.85 L830.74 599.69 L831.34 598.51 L831.95 597.32 L832.56 596.12 L833.16 594.91 L833.77 593.69 L834.38 592.45 L834.98 591.21 L835.59 589.96 L836.19 588.69 L836.8 587.42 L837.41 586.14 L838.01 584.84 L838.62 583.54 L839.22 582.24 L839.83 580.92 L840.44 579.59 L841.04 578.26 L841.65 576.92 L842.26 575.58 L842.86 574.23 L843.47 572.87 L844.08 571.51 L844.68 570.14 L845.29 568.77 L845.89 567.39 L846.5 566 L847.11 564.62 L847.71 563.23 L848.32 561.83 L848.92 560.44 L849.53 559.04 L850.14 557.64 L850.74 556.24 L851.35 554.83 L851.96 553.42 L852.56 552.02 L853.17 550.61 L853.77 549.2 L854.38 547.8 L854.99 546.39 L855.59 544.98 L856.2 543.58 L856.81 542.18 L857.41 540.77 L858.02 539.38 L858.62 537.98 L859.23 536.59 L859.84 535.2 L860.44 533.81 L861.05 532.43 L861.66 531.05 L862.26 529.68 L862.87 528.31 L863.47 526.94 L864.08 525.59 L864.69 524.23 L865.29 522.89 L865.9 521.55 L866.51 520.22 L867.11 518.89 L867.72 517.58 L868.33 516.27 L868.93 514.97 L869.54 513.68 L870.14 512.39 L870.75 511.12 L871.36 509.86 L871.96 508.6 L872.57 507.36 L873.17 506.13 L873.78 504.9 L874.39 503.69 L874.99 502.49 L875.6 501.3 L876.21 500.13 L876.81 498.96 L877.42 497.81 L878.02 496.67 L878.63 495.55 L879.24 494.43 L879.84 493.34 L880.45 492.25 L881.06 491.18 L881.66 490.13 L882.27 489.08 L882.88 488.06 L883.48 487.05 L884.09 486.05 L884.69 485.07 L885.3 484.11 L885.91 483.16 L886.51 482.23 L887.12 481.32 L887.72 480.42 L888.33 479.54 L888.94 478.68 L889.54 477.83 L890.15 477 L890.76 476.2 L891.36 475.4 L891.97 474.63 L892.58 473.88 L893.18 473.14 L893.79 472.43 L894.39 471.73 L895 471.05 L895.61 470.39 L896.21 469.75 L896.82 469.13 L897.42 468.53 L898.03 467.95 L898.64 467.4 L899.24 466.86 L899.85 466.34 L900.46 465.84 L901.06 465.36 L901.67 464.91 L902.27 464.47 L902.88 464.06 L903.49 463.67 L904.09 463.29 L904.7 462.94 L905.31 462.62 L905.91 462.31 L906.52 462.02 L907.12 461.76 L907.73 461.52 L908.34 461.3 L908.94 461.1 L909.55 460.92 L910.16 460.77 L910.76 460.63 L911.37 460.52 L911.97 460.44 L912.58 460.37 L913.19 460.33 L913.79 460.3 L914.4 460.3" fill="none" stroke="#000" stroke-width="1.6" stroke-linejoin="round" stroke-linecap="round"/>
<path d="M942.4 501.9 L927.2 501.9 L927.2 597.1 L942.4 597.1" fill="none" stroke="#000" stroke-width="1.6" stroke-linejoin="round" stroke-linecap="round"/>
<text x="938.61" y="556.1">5°</text>
<line x1="668.6" y1="650.6" x2="912.7" y2="650.6" stroke="#000" stroke-width="1.6" stroke-linecap="butt"/>
<line x1="668.6" y1="650.6" x2="668.6" y2="661.5" stroke="#000" stroke-width="1.6" stroke-linecap="butt"/>
<line x1="729.6" y1="650.6" x2="729.6" y2="661.5" stroke="#000" stroke-width="1.6" stroke-linecap="butt"/>
<line x1="790.6" y1="650.6" x2="790.6" y2="661.5" stroke="#000" stroke-width="1.6" stroke-linecap="butt"/>
<line x1="851.6" y1="650.6" x2="851.6" y2="661.5" stroke="#000" stroke-width="1.6" stroke-linecap="butt"/>
<line x1="912.7" y1="650.6" x2="912.7" y2="661.5" stroke="#000" stroke-width="1.6" stroke-linecap="butt"/>
<text x="646.39" y="691.1">-1.0</text>
<text x="772.34" y="691.1">0.0</text>
<text x="898.13" y="691.1">1.0</text>
<text x="741.49" y="724.1">Time (s)</text>
<text x="982.94" y="410.7" font-size="51">G</text>
<line x1="1117.3" y1="458.8" x2="1117.3" y2="683.6" stroke="#000" stroke-width="1.6" stroke-linecap="butt"/>
<line x1="1106.1" y1="683.6" x2="1117.3" y2="683.6" stroke="#000" stroke-width="1.6" stroke-linecap="butt"/>
<line x1="1110.1" y1="646.27" x2="1117.3" y2="646.27" stroke="#000" stroke-width="1.6" stroke-linecap="butt"/>
<line x1="1106.1" y1="608.93" x2="1117.3" y2="608.93" stroke="#000" stroke-width="1.6" stroke-linecap="butt"/>
<line x1="1110.1" y1="571.6" x2="1117.3" y2="571.6" stroke="#000" stroke-width="1.6" stroke-linecap="butt"/>
<line x1="1106.1" y1="534.27" x2="1117.3" y2="534.27" stroke="#000" stroke-width="1.6" stroke-linecap="butt"/>
<line x1="1110.1" y1="496.93" x2="1117.3" y2="496.93" stroke="#000" stroke-width="1.6" stroke-linecap="butt"/>
<line x1="1106.1" y1="459.6" x2="1117.3" y2="459.6" stroke="#000" stroke-width="1.6" stroke-linecap="butt"/>
<line x1="1106.1" y1="683.6" x2="1230.3" y2="683.6" stroke="#000" stroke-width="1.6" stroke-linecap="butt"/>
<line x1="1140.3" y1="683.6" x2="1140.3" y2="695.3" stroke="#000" stroke-width="1.6" stroke-linecap="butt"/>
<line x1="1206.7" y1="683.6" x2="1206.7" y2="695.3" stroke="#000" stroke-width="1.6" stroke-linecap="butt"/>
<text x="1060.24" y="468.2">0.6</text>
<text x="1060.24" y="542.6">0.4</text>
<text x="1060.24" y="617.4">0.2</text>
<text x="1060.24" y="692">0.0</text>
<text transform="translate(1048.1 674.82) rotate(-90)" font-size="27.1">VOR in light Gain</text>
<text x="1113.19" y="723.5">Xen.</text>
<text x="1180.65" y="723.5">Axo.</text>
<line x1="1139.7" y1="469.1" x2="1211.5" y2="469.1" stroke="#000" stroke-width="1.9" stroke-linecap="butt"/>
<text x="1156.48" y="474.4" font-size="32">***</text>
<circle cx="1140.7" cy="505.7" r="6.2" fill="#16b06a" fill-opacity="0.45"/>
<circle cx="1136.4" cy="564.3" r="6.2" fill="#16b06a" fill-opacity="0.45"/>
<circle cx="1144.6" cy="569.3" r="6.2" fill="#16b06a" fill-opacity="0.45"/>
<circle cx="1132.4" cy="575.9" r="6.2" fill="#16b06a" fill-opacity="0.45"/>
<circle cx="1146.9" cy="580.1" r="6.2" fill="#16b06a" fill-opacity="0.45"/>
<circle cx="1139.7" cy="583.4" r="6.2" fill="#16b06a" fill-opacity="0.45"/>
<circle cx="1207.2" cy="582.4" r="6.2" fill="#f4ac68" fill-opacity="0.45"/>
<circle cx="1201.6" cy="618.7" r="6.2" fill="#f4ac68" fill-opacity="0.45"/>
<circle cx="1213.8" cy="624.3" r="6.2" fill="#f4ac68" fill-opacity="0.45"/>
<circle cx="1199" cy="626.9" r="6.2" fill="#f4ac68" fill-opacity="0.45"/>
<circle cx="1205.6" cy="630.2" r="6.2" fill="#f4ac68" fill-opacity="0.45"/>
<circle cx="1215.4" cy="633.5" r="6.2" fill="#f4ac68" fill-opacity="0.45"/>
<circle cx="1202.3" cy="636.8" r="6.2" fill="#f4ac68" fill-opacity="0.45"/>
<circle cx="1208.9" cy="643.4" r="6.2" fill="#f4ac68" fill-opacity="0.45"/>
<circle cx="1207.2" cy="666.4" r="6.2" fill="#f4ac68" fill-opacity="0.45"/>
<line x1="1139.7" y1="534.7" x2="1139.7" y2="591.3" stroke="#16a060" stroke-width="2.2" stroke-linecap="butt"/>
<line x1="1132" y1="534.7" x2="1147.4" y2="534.7" stroke="#16a060" stroke-width="2.2" stroke-linecap="butt"/>
<line x1="1132" y1="591.3" x2="1147.4" y2="591.3" stroke="#16a060" stroke-width="2.2" stroke-linecap="butt"/>
<line x1="1124.4" y1="562.7" x2="1155" y2="562.7" stroke="#16a060" stroke-width="2.8" stroke-linecap="butt"/>
<line x1="1207.2" y1="608.8" x2="1207.2" y2="651.6" stroke="#f0a050" stroke-width="2.2" stroke-linecap="butt"/>
<line x1="1199.8" y1="608.8" x2="1214.6" y2="608.8" stroke="#f0a050" stroke-width="2.2" stroke-linecap="butt"/>
<line x1="1199.8" y1="651.6" x2="1214.6" y2="651.6" stroke="#f0a050" stroke-width="2.2" stroke-linecap="butt"/>
<line x1="1191.6" y1="630.2" x2="1222.8" y2="630.2" stroke="#f0a050" stroke-width="2.8" stroke-linecap="butt"/>
<text x="1250.72" y="410.7" font-size="51">H</text>
<circle cx="1406.5" cy="582.6" r="106.8" fill="none" stroke="#333" stroke-width="1.3"/>
<line x1="1288.8" y1="582.6" x2="1524.5" y2="582.6" stroke="#444" stroke-width="1.3" stroke-linecap="butt"/>
<line x1="1406.5" y1="465.6" x2="1406.5" y2="700.6" stroke="#444" stroke-width="1.3" stroke-linecap="butt"/>
<text x="1391.64" y="460.6">0°</text>
<text x="1378.73" y="726.6">180°</text>
<text x="1321.29" y="474.8" fill="#0cb465">-29°</text>
<text x="1482.38" y="492.6" fill="#f0a454">41°</text>
<circle cx="1390.5" cy="482.1" r="6.4" fill="#16b06a" fill-opacity="0.5"/>
<circle cx="1393" cy="482.5" r="6.4" fill="#16b06a" fill-opacity="0.5"/>
<circle cx="1362" cy="492" r="6.4" fill="#16b06a" fill-opacity="0.5"/>
<circle cx="1334" cy="511.7" r="6.4" fill="#16b06a" fill-opacity="0.5"/>
<circle cx="1340.6" cy="516.7" r="6.4" fill="#16b06a" fill-opacity="0.5"/>
<circle cx="1347.2" cy="522.3" r="6.4" fill="#16b06a" fill-opacity="0.5"/>
<circle cx="1424.6" cy="482.1" r="6.4" fill="#f4ac68" fill-opacity="0.45"/>
<circle cx="1439.5" cy="487" r="6.4" fill="#f4ac68" fill-opacity="0.45"/>
<circle cx="1446.1" cy="490.3" r="6.4" fill="#f4ac68" fill-opacity="0.45"/>
<circle cx="1452.6" cy="493.6" r="6.4" fill="#f4ac68" fill-opacity="0.45"/>
<circle cx="1469.1" cy="503.5" r="6.4" fill="#f4ac68" fill-opacity="0.45"/>
<circle cx="1479" cy="511.7" r="6.4" fill="#f4ac68" fill-opacity="0.45"/>
<circle cx="1485.6" cy="521.6" r="6.4" fill="#f4ac68" fill-opacity="0.45"/>
<circle cx="1492.2" cy="531.5" r="6.4" fill="#f4ac68" fill-opacity="0.45"/>
<circle cx="1495.5" cy="534.8" r="6.4" fill="#f4ac68" fill-opacity="0.45"/>
<circle cx="1501.4" cy="548" r="6.4" fill="#f4ac68" fill-opacity="0.45"/>
<line x1="1406.5" y1="582.6" x2="1360.01" y2="499.23" stroke="#0cb465" stroke-width="2.4" stroke-linecap="butt"/>
<path d="M1352.8 486.3 L1366.4 499.9 L1361.18 501.33 L1357.22 505.01Z" fill="#0cb465"/>
<line x1="1406.5" y1="582.6" x2="1468.71" y2="512.1" stroke="#f0a454" stroke-width="2.4" stroke-linecap="butt"/>
<path d="M1478.5 501 L1470.2 518.35 L1467.12 513.9 L1462.32 511.4Z" fill="#f0a454"/>
<text x="2.59" y="802.5" font-size="51">I</text>
<text x="70.77" y="834">Light on</text>
<text x="366.57" y="834.5">Drum pos.</text>
<path d="M122.6 845.71 L123.55 845.87 L124.49 846.21 L125.44 846.75 L126.39 847.47 L127.34 848.38 L128.28 849.46 L129.23 850.73 L130.18 852.16 L131.13 853.76 L132.07 855.52 L133.02 857.43 L133.97 859.49 L134.91 861.68 L135.86 864 L136.81 866.44 L137.76 868.99 L138.7 871.63 L139.65 874.37 L140.6 877.18 L141.54 880.07 L142.49 883 L143.44 885.98 L144.39 888.99 L145.33 892.03 L146.28 895.07 L147.23 898.1 L148.18 901.12 L149.12 904.12 L150.07 907.07 L151.02 909.97 L151.96 912.81 L152.91 915.58 L153.86 918.26 L154.81 920.85 L155.75 923.33 L156.7 925.69 L157.65 927.93 L158.6 930.04 L159.54 932 L160.49 933.82 L161.44 935.48 L162.38 936.97 L163.33 938.3 L164.28 939.45 L165.23 940.42 L166.17 941.21 L167.12 941.82 L168.07 942.23 L169.02 942.46 L169.96 942.49 L170.91 942.33 L171.86 941.99 L172.8 941.45 L173.75 940.73 L174.7 939.82 L175.65 938.73 L176.59 937.47 L177.54 936.04 L178.49 934.44 L179.44 932.68 L180.38 930.77 L181.33 928.71 L182.28 926.52 L183.22 924.2 L184.17 921.76 L185.12 919.21 L186.07 916.56 L187.01 913.82 L187.96 911.01 L188.91 908.13 L189.85 905.19 L190.8 902.21 L191.75 899.2 L192.7 896.17 L193.64 893.12 L194.59 890.09 L195.54 887.07 L196.49 884.07 L197.43 881.12 L198.38 878.22 L199.33 875.38 L200.27 872.61 L201.22 869.93 L202.17 867.35 L203.12 864.87 L204.06 862.5 L205.01 860.26 L205.96 858.16 L206.91 856.19 L207.85 854.38 L208.8 852.72 L209.75 851.22 L210.69 849.9 L211.64 848.75 L212.59 847.78 L213.54 846.99 L214.48 846.38 L215.43 845.97 L216.38 845.74 L217.32 845.71 L218.27 845.87 L219.22 846.21 L220.17 846.75 L221.11 847.47 L222.06 848.38 L223.01 849.47 L223.96 850.73 L224.9 852.17 L225.85 853.77 L226.8 855.53 L227.74 857.44 L228.69 859.5 L229.64 861.69 L230.59 864.01 L231.53 866.45 L232.48 869 L233.43 871.65 L234.38 874.39 L235.32 877.2 L236.27 880.08 L237.22 883.02 L238.16 886 L239.11 889.01 L240.06 892.04 L241.01 895.08 L241.95 898.12 L242.9 901.14 L243.85 904.13 L244.8 907.09 L245.74 909.99 L246.69 912.83 L247.64 915.59 L248.58 918.27 L249.53 920.86 L250.48 923.34 L251.43 925.7 L252.37 927.94 L253.32 930.05 L254.27 932.01 L255.22 933.83 L256.16 935.49 L257.11 936.98 L258.06 938.3 L259 939.45 L259.95 940.43 L260.9 941.22 L261.85 941.82 L262.79 942.23 L263.74 942.46 L264.69 942.49 L265.63 942.33 L266.58 941.98 L267.53 941.45 L268.48 940.72 L269.42 939.82 L270.37 938.73 L271.32 937.46 L272.27 936.03 L273.21 934.43 L274.16 932.67 L275.11 930.75 L276.05 928.7 L277 926.5 L277.95 924.18 L278.9 921.74 L279.84 919.19 L280.79 916.54 L281.74 913.81 L282.69 910.99 L283.63 908.11 L284.58 905.17 L285.53 902.19 L286.47 899.18 L287.42 896.15 L288.37 893.11 L289.32 890.07 L290.26 887.05 L291.21 884.06 L292.16 881.11 L293.11 878.2 L294.05 875.36 L295 872.6 L295.95 869.92 L296.89 867.33 L297.84 864.85 L298.79 862.49 L299.74 860.25 L300.68 858.15 L301.63 856.18 L302.58 854.37 L303.52 852.71 L304.47 851.22 L305.42 849.89 L306.37 848.74 L307.31 847.77 L308.26 846.98 L309.21 846.38 L310.16 845.97 L311.1 845.74 L312.05 845.71 L313 845.87 L313.94 846.22 L314.89 846.75 L315.84 847.48 L316.79 848.39 L317.73 849.48 L318.68 850.74 L319.63 852.18 L320.58 853.78 L321.52 855.54 L322.47 857.45 L323.42 859.51 L324.36 861.7 L325.31 864.02 L326.26 866.46 L327.21 869.01 L328.15 871.66 L329.1 874.4 L330.05 877.21 L331 880.1 L331.94 883.03 L332.89 886.01 L333.84 889.03 L334.78 892.06 L335.73 895.1 L336.68 898.14 L337.63 901.16 L338.57 904.15 L339.52 907.1 L340.47 910 L341.41 912.84 L342.36 915.61 L343.31 918.29 L344.26 920.87 L345.2 923.35 L346.15 925.72 L347.1 927.95 L348.05 930.06 L348.99 932.02 L349.94 933.84 L350.89 935.49 L351.83 936.99 L352.78 938.31 L353.73 939.46 L354.68 940.43 L355.62 941.22 L356.57 941.82 L357.52 942.23 L358.47 942.46 L359.41 942.49 L360.36 942.33 L361.31 941.98 L362.25 941.44 L363.2 940.72 L364.15 939.81 L365.1 938.72 L366.04 937.46 L366.99 936.02 L367.94 934.42 L368.88 932.66 L369.83 930.74 L370.78 928.69 L371.73 926.49 L372.67 924.17 L373.62 921.73 L374.57 919.18 L375.52 916.53 L376.46 913.79 L377.41 910.98 L378.36 908.1 L379.3 905.16 L380.25 902.18 L381.2 899.17 L382.15 896.13 L383.09 893.09 L384.04 890.06 L384.99 887.04 L385.94 884.04 L386.88 881.09 L387.83 878.19 L388.78 875.35 L389.72 872.58 L390.67 869.9 L391.62 867.32 L392.57 864.84 L393.51 862.48 L394.46 860.24 L395.41 858.13 L396.36 856.17 L397.3 854.36 L398.25 852.7 L399.2 851.21 L400.14 849.89 L401.09 848.74 L402.04 847.77 L402.99 846.98 L403.93 846.38 L404.88 845.97 L405.83 845.74 L406.77 845.71 L407.72 845.87 L408.67 846.22 L409.62 846.76 L410.56 847.48 L411.51 848.39 L412.46 849.48 L413.41 850.75 L414.35 852.18 L415.3 853.79 L416.25 855.55 L417.19 857.46 L418.14 859.52 L419.09 861.71 L420.04 864.04 L420.98 866.48 L421.93 869.03 L422.88 871.68 L423.83 874.41 L424.77 877.23 L425.72 880.11 L426.67 883.05 L427.61 886.03 L428.56 889.04 L429.51 892.07 L430.46 895.12 L431.4 898.15 L432.35 901.17 L433.3 904.17 L434.25 907.12 L435.19 910.02 L436.14 912.86 L437.09 915.62 L438.03 918.3 L438.98 920.89 L439.93 923.37 L440.88 925.73 L441.82 927.97 L442.77 930.07 L443.72 932.03 L444.66 933.85 L445.61 935.5 L446.56 936.99 L447.51 938.32 L448.45 939.47 L449.4 940.44 L450.35 941.22 L451.3 941.82 L452.24 942.24 L453.19 942.46 L454.14 942.49 L455.08 942.33 L456.03 941.98 L456.98 941.44 L457.93 940.72 L458.87 939.81 L459.82 938.72 L460.77 937.45 L461.72 936.01 L462.66 934.41 L463.61 932.65 L464.56 930.73 L465.5 928.68 L466.45 926.48 L467.4 924.16 L468.35 921.72 L469.29 919.17 L470.24 916.52 L471.19 913.78 L472.14 910.96 L473.08 908.08 L474.03 905.14 L474.98 902.16 L475.92 899.15 L476.87 896.12 L477.82 893.08 L478.77 890.04 L479.71 887.02 L480.66 884.03 L481.61 881.07 L482.55 878.17 L483.5 875.33 L484.45 872.57 L485.4 869.89 L486.34 867.31 L487.29 864.83 L488.24 862.47 L489.19 860.23 L490.13 858.12 L491.08 856.16 L492.03 854.35 L492.97 852.69 L493.92 851.2 L494.87 849.88 L495.82 848.73 L496.76 847.76 L497.71 846.98 L498.66 846.38 L499.61 845.96 L500.55 845.74 L501.5 845.71" fill="none" stroke="#000" stroke-width="1.7" stroke-linejoin="round" stroke-linecap="round"/>
<path d="M538 846.4 L525.3 846.4 L525.3 942.5 L538 942.5" fill="none" stroke="#000" stroke-width="1.6" stroke-linejoin="round" stroke-linecap="round"/>
<text x="546.17" y="854.6">Ri</text>
<text x="539.37" y="902">+/- 10°</text>
<text x="546.17" y="952.4">Le</text>
<line x1="525.3" y1="984.1" x2="525.3" y2="1041.3" stroke="#000" stroke-width="1.6" stroke-linecap="butt"/>
<text x="533.01" y="1020.6">5°</text>
<line x1="381.5" y1="1091.7" x2="476.9" y2="1091.7" stroke="#000" stroke-width="3.3" stroke-linecap="butt"/>
<text x="404.03" y="1119.6">10s</text>
<text x="46.89" y="947.5" fill="#0cb465">Xen.</text>
<text x="46.85" y="999" fill="#f0a454">Axo.</text>
<path d="M122.6 935.83 L123.6 936.21 L124.6 939.15 L125.6 938.01 L126.6 940.82 L127.6 941.37 L128.6 941.4 L129.6 944.38 L130.6 943.98 L131.6 946.88 L132.6 946.96 L133.6 948.53 L134.6 951.29 L135.6 954.38 L136.6 953.29 L137.6 955.25 L138.6 958.46 L139.6 961.35 L140.6 961.63 L141.6 962.71 L142.6 966.68 L143.6 964.94 L144.6 969.87 L145.6 969.55 L146.6 970.92 L147.6 972.79 L148.6 975.48 L149.6 979.44 L150.6 979.06 L151.6 982.62 L152.6 984.8 L153.6 985.74 L154.6 988.36 L155.6 988.44 L156.6 990.35 L157.6 992.79 L158.6 996.43 L159.6 997.31 L160.6 998.45 L161.6 1000.95 L162.6 1001.92 L163.6 1002.39 L164.6 1005.32 L165.6 1005.85 L166.6 1004.77 L167.6 1006.66 L168.6 1006.67 L169.6 1008.06 L170.6 1007.51 L171.6 1005.26 L172.6 1007.32 L173.6 1003.41 L174.6 1003.51 L175.6 1003.77 L176.6 1000.4 L177.6 1000.3 L178.6 997.22 L179.6 998.04 L180.6 996.41 L181.6 993.6 L182.6 992.1 L183.6 987.36 L184.6 986.35 L185.6 983.56 L186.6 981.48 L187.6 978.99 L188.6 978.47 L189.6 976.93 L190.6 973.21 L191.6 971.95 L192.6 967.65 L193.6 968.07 L194.6 965.72 L195.6 964.85 L196.6 962 L197.6 957.73 L198.6 955.86 L199.6 954.68 L200.6 949.99 L201.6 949.47 L202.6 946.17 L203.6 943.85 L204.6 941.67 L205.6 942.4 L206.6 938.06 L207.6 936.66 L208.6 935.35 L209.6 935.19 L210.6 930.13 L211.6 928.32 L212.6 924.57 L213.6 924.25 L214.6 928.03 L215.6 928.02 L216.6 923.41 L217.6 927.5 L218.6 928.91 L219.6 931.23 L220.6 932.6 L221.6 930.94 L222.6 932.65 L223.6 934.5 L224.6 936.26 L225.6 938.97 L226.6 941.13 L227.6 941.78 L228.6 942.69 L229.6 946.25 L230.6 948.27 L231.6 951.25 L232.6 955.18 L233.6 956.61 L234.6 958.25 L235.6 960.95 L236.6 963.28 L237.6 963.03 L238.6 968.33 L239.6 969.9 L240.6 972.29 L241.6 973.94 L242.6 974.26 L243.6 976.16 L244.6 976.76 L245.6 980.45 L246.6 979.95 L247.6 981.49 L248.6 983.54 L249.6 984.84 L250.6 986.85 L251.6 987.1 L252.6 988.17 L253.6 989.91 L254.6 990.9 L255.6 992.99 L256.6 992.72 L257.6 996.96 L258.6 996.87 L259.6 995.88 L260.6 997.06 L261.6 997.72 L262.6 997.77 L263.6 996.29 L264.6 998.3 L265.6 998.21 L266.6 995.58 L267.6 994.88 L268.6 992.61 L269.6 991.65 L270.6 991.52 L271.6 990.01 L272.6 990.83 L273.6 986.96 L274.6 984.93 L275.6 986.95 L276.6 983.81 L277.6 980.69 L278.6 980.53 L279.6 976.82 L280.6 976.79 L281.6 976.57 L282.6 974.11 L283.6 971.39 L284.6 967.64 L285.6 966.06 L286.6 963.36 L287.6 963.73 L288.6 961.17 L289.6 960.49 L290.6 957.19 L291.6 955.33 L292.6 956.11 L293.6 955.32 L294.6 953.37 L295.6 951.74 L296.6 950.22 L297.6 948.28 L298.6 944.68 L299.6 944.14 L300.6 941.88 L301.6 939 L302.6 937.8 L303.6 937.59 L304.6 936.52 L305.6 937.85 L306.6 938.54 L307.6 936.61 L308.6 938.73 L309.6 939.18 L310.6 939.43 L311.6 937.57 L312.6 937.2 L313.6 937.32 L314.6 937.43 L315.6 937.83 L316.6 940.44 L317.6 942.52 L318.6 943.8 L319.6 944.06 L320.6 946.35 L321.6 948.6 L322.6 947.73 L323.6 951.77 L324.6 954.56 L325.6 955.91 L326.6 957.56 L327.6 958.29 L328.6 958.91 L329.6 963 L330.6 962.8 L331.6 966.12 L332.6 968.31 L333.6 967.66 L334.6 969.14 L335.6 972.66 L336.6 973.28 L337.6 972.62 L338.6 973.95 L339.6 975.53 L340.6 979.89 L341.6 981.03 L342.6 980.23 L343.6 984.52 L344.6 986.8 L345.6 987.35 L346.6 987.97 L347.6 990.49 L348.6 990.4 L349.6 991.46 L350.6 996.53 L351.6 996.51 L352.6 997.24 L353.6 999.93 L354.6 998.95 L355.6 1001.54 L356.6 1002.14 L357.6 1000.17 L358.6 1000.7 L359.6 1001 L360.6 1000.43 L361.6 1001.38 L362.6 999.58 L363.6 999.26 L364.6 997.25 L365.6 999.18 L366.6 995.87 L367.6 995.06 L368.6 994.24 L369.6 994.02 L370.6 990.74 L371.6 991.07 L372.6 987.77 L373.6 986.17 L374.6 984.36 L375.6 980.62 L376.6 980.39 L377.6 977.52 L378.6 974.88 L379.6 975.94 L380.6 971.52 L381.6 970.59 L382.6 969.47 L383.6 966.84 L384.6 963.99 L385.6 962.76 L386.6 960.97 L387.6 959.93 L388.6 955.45 L389.6 955.27 L390.6 952.24 L391.6 950.51 L392.6 950.56 L393.6 947.72 L394.6 946.29 L395.6 945.53 L396.6 944.59 L397.6 941.29 L398.6 940.81 L399.6 939.38 L400.6 938.38 L401.6 938.37 L402.6 936.95 L403.6 936.75 L404.6 936.47 L405.6 938.3 L406.6 937.45 L407.6 938.8 L408.6 939.79 L409.6 937.94 L410.6 940.34 L411.6 943.1 L412.6 944 L413.6 942.79 L414.6 944.2 L415.6 946.88 L416.6 946.97 L417.6 949.11 L418.6 949.99 L419.6 953.92 L420.6 956.03 L421.6 958.16 L422.6 957.15 L423.6 961.09 L424.6 962.71 L425.6 962.72 L426.6 967.51 L427.6 969.81 L428.6 968.97 L429.6 973.82 L430.6 973.78 L431.6 976.18 L432.6 980.14 L433.6 981.52 L434.6 980.95 L435.6 983.95 L436.6 986.21 L437.6 987.37 L438.6 988.65 L439.6 990.94 L440.6 994.16 L441.6 993.18 L442.6 996.87 L443.6 997.87 L444.6 997.71 L445.6 1000.28 L446.6 1002.69 L447.6 1003.56 L448.6 1002.85 L449.6 1007.32 L450.6 1007.06 L451.6 1007.98 L452.6 1004.9 L453.6 1005.04 L454.6 1003.72 L455.6 1006.07 L456.6 1003.38 L457.6 1001.97 L458.6 1002.2 L459.6 1003.16 L460.6 1001.6 L461.6 998.27 L462.6 996.65 L463.6 998.06 L464.6 995.03 L465.6 993.81 L466.6 989.54 L467.6 987.27 L468.6 987.51 L469.6 984.36 L470.6 980.87 L471.6 982.01 L472.6 978.81 L473.6 977.45 L474.6 972.72 L475.6 973.65 L476.6 968.65 L477.6 969.68 L478.6 966.12 L479.6 963.69 L480.6 962.5 L481.6 961.77 L482.6 957.08 L483.6 954.36 L484.6 953.68 L485.6 950.39 L486.6 947.75 L487.6 946.29 L488.6 944.21 L489.6 943.13 L490.6 942.53 L491.6 941.55 L492.6 942.33 L493.6 939.59 L494.6 939.65 L495.6 937.76 L496.6 937.74 L497.6 935.83 L498.6 936.06 L499.6 934.54 L500.6 936.65" fill="none" stroke="#0cb465" stroke-width="2.6" stroke-linejoin="round" stroke-linecap="round"/>
<path d="M122.6 987.79 L123.6 985.78 L124.6 986.27 L125.6 987.46 L126.6 984.12 L127.6 986.85 L128.6 985.75 L129.6 986.88 L130.6 989.7 L131.6 989.9 L132.6 992.7 L133.6 995.92 L134.6 999.79 L135.6 1000.13 L136.6 1004.78 L137.6 1007.09 L138.6 1009.65 L139.6 1011.6 L140.6 1014.22 L141.6 1015.96 L142.6 1019.1 L143.6 1021.59 L144.6 1026.74 L145.6 1027.49 L146.6 1029.44 L147.6 1031.32 L148.6 1036.38 L149.6 1038.46 L150.6 1039.63 L151.6 1040.09 L152.6 1041.79 L153.6 1043.82 L154.6 1046.29 L155.6 1046.94 L156.6 1049.83 L157.6 1050.8 L158.6 1055.11 L159.6 1056.7 L160.6 1056.63 L161.6 1057.03 L162.6 1061.31 L163.6 1060.27 L164.6 1061.88 L165.6 1061.65 L166.6 1064.06 L167.6 1064.02 L168.6 1061.9 L169.6 1059.65 L170.6 1061.08 L171.6 1059.98 L172.6 1061.9 L173.6 1062.29 L174.6 1064.52 L175.6 1063.51 L176.6 1063.72 L177.6 1064.39 L178.6 1062.71 L179.6 1062.25 L180.6 1059.47 L181.6 1057.74 L182.6 1054.84 L183.6 1052.58 L184.6 1050.99 L185.6 1046.92 L186.6 1044.46 L187.6 1044.74 L188.6 1039.34 L189.6 1039.27 L190.6 1036.68 L191.6 1032.12 L192.6 1032.55 L193.6 1030.1 L194.6 1026.41 L195.6 1024.06 L196.6 1021.65 L197.6 1017.19 L198.6 1016.74 L199.6 1015.33 L200.6 1015.81 L201.6 1014.92 L202.6 1014.52 L203.6 1013.35 L204.6 1014.27 L205.6 1013.19 L206.6 1012.89 L207.6 1010.78 L208.6 1009.66 L209.6 1009.43 L210.6 1009.68 L211.6 1008.09 L212.6 1010.22 L213.6 1008.47 L214.6 1008.05 L215.6 1007.35 L216.6 1006.77 L217.6 1005.22 L218.6 1002.56 L219.6 1004.3 L220.6 1002.63 L221.6 999.9 L222.6 998.05 L223.6 997.84 L224.6 995.91 L225.6 999.77 L226.6 1000.1 L227.6 1001.92 L228.6 1005.5 L229.6 1010.28 L230.6 1011.66 L231.6 1017.56 L232.6 1021.93 L233.6 1023.22 L234.6 1025.21 L235.6 1027.85 L236.6 1030.66 L237.6 1032.89 L238.6 1034.05 L239.6 1035.87 L240.6 1035.21 L241.6 1036.93 L242.6 1038.79 L243.6 1042.05 L244.6 1041.72 L245.6 1044.06 L246.6 1043.29 L247.6 1044.84 L248.6 1047.01 L249.6 1049.92 L250.6 1051.62 L251.6 1053.53 L252.6 1054.49 L253.6 1056.75 L254.6 1057.25 L255.6 1057.19 L256.6 1055.8 L257.6 1058.41 L258.6 1055.36 L259.6 1057.91 L260.6 1057.48 L261.6 1053.74 L262.6 1055.17 L263.6 1056.85 L264.6 1057.79 L265.6 1056.22 L266.6 1056.08 L267.6 1056.4 L268.6 1059.49 L269.6 1056.53 L270.6 1057.78 L271.6 1055.24 L272.6 1055.37 L273.6 1055.67 L274.6 1050.7 L275.6 1051.29 L276.6 1048.09 L277.6 1047.23 L278.6 1044.2 L279.6 1039.96 L280.6 1039.74 L281.6 1035.41 L282.6 1030.43 L283.6 1027.13 L284.6 1025.98 L285.6 1022.81 L286.6 1019.49 L287.6 1016.13 L288.6 1014.37 L289.6 1011.75 L290.6 1011.9 L291.6 1006.87 L292.6 1008.61 L293.6 1008.01 L294.6 1004.37 L295.6 1006.88 L296.6 1005.52 L297.6 1005.67 L298.6 1002.56 L299.6 1002.09 L300.6 1001.04 L301.6 1001.72 L302.6 998.38 L303.6 995.35 L304.6 993.61 L305.6 991.2 L306.6 988.74 L307.6 987.46 L308.6 988.98 L309.6 985.7 L310.6 987.68 L311.6 984.75 L312.6 985.15 L313.6 986.72 L314.6 986.42 L315.6 988.39 L316.6 991.89 L317.6 993.23 L318.6 994.56 L319.6 995.55 L320.6 998.48 L321.6 1000.43 L322.6 1000.8 L323.6 1003.5 L324.6 1003.01 L325.6 1007.66 L326.6 1008.68 L327.6 1011.97 L328.6 1013.71 L329.6 1014.49 L330.6 1015.87 L331.6 1021.49 L332.6 1020.74 L333.6 1024.44 L334.6 1026.36 L335.6 1028.58 L336.6 1032.55 L337.6 1035.75 L338.6 1035.29 L339.6 1038.81 L340.6 1039.47 L341.6 1042.45 L342.6 1043.74 L343.6 1044.78 L344.6 1046.67 L345.6 1048.93 L346.6 1053.67 L347.6 1054.43 L348.6 1056.59 L349.6 1062.4 L350.6 1066.34 L351.6 1067.9 L352.6 1068.36 L353.6 1070 L354.6 1068.9 L355.6 1068.23 L356.6 1065.59 L357.6 1063.2 L358.6 1060.31 L359.6 1058.65 L360.6 1057.51 L361.6 1054.65 L362.6 1051.78 L363.6 1051.31 L364.6 1051.25 L365.6 1050.88 L366.6 1051.04 L367.6 1050.03 L368.6 1050.42 L369.6 1052.62 L370.6 1047.62 L371.6 1047.1 L372.6 1045.25 L373.6 1043.42 L374.6 1038.26 L375.6 1035.93 L376.6 1033.31 L377.6 1031.59 L378.6 1029.7 L379.6 1029.57 L380.6 1027.16 L381.6 1025.3 L382.6 1020.12 L383.6 1018.21 L384.6 1018.83 L385.6 1017.58 L386.6 1014.1 L387.6 1012.69 L388.6 1008.63 L389.6 1008.3 L390.6 1008.23 L391.6 1005.38 L392.6 1001.7 L393.6 997.72 L394.6 989.55 L395.6 984.91 L396.6 983.56 L397.6 988.65 L398.6 995.3 L399.6 999.08 L400.6 997.76 L401.6 995.72 L402.6 995.03 L403.6 992.93 L404.6 993.12 L405.6 991.1 L406.6 993.88 L407.6 991.93 L408.6 994.68 L409.6 993.77 L410.6 992.88 L411.6 992.65 L412.6 993.56 L413.6 995.96 L414.6 997.13 L415.6 996.4 L416.6 997.85 L417.6 1001.53 L418.6 1003.71 L419.6 1005.23 L420.6 1006.86 L421.6 1010.6 L422.6 1010.81 L423.6 1014.37 L424.6 1017.4 L425.6 1021.63 L426.6 1022.78 L427.6 1025.97 L428.6 1026.5 L429.6 1027.66 L430.6 1029.76 L431.6 1034.43 L432.6 1035.42 L433.6 1035.87 L434.6 1036.75 L435.6 1040.52 L436.6 1043.17 L437.6 1044.22 L438.6 1045.62 L439.6 1049.2 L440.6 1052.2 L441.6 1051.56 L442.6 1052.85 L443.6 1055.96 L444.6 1058.23 L445.6 1061.33 L446.6 1061.84 L447.6 1066.46 L448.6 1067.4 L449.6 1067.06 L450.6 1065.59 L451.6 1068.07 L452.6 1065.14 L453.6 1066.33 L454.6 1063.29 L455.6 1062.45 L456.6 1063.69 L457.6 1061.04 L458.6 1062.65 L459.6 1060.04 L460.6 1058.02 L461.6 1057.33 L462.6 1057.25 L463.6 1057.31 L464.6 1057.47 L465.6 1053.49 L466.6 1053.3 L467.6 1051.35 L468.6 1052.98 L469.6 1048.25 L470.6 1046.2 L471.6 1044.53 L472.6 1043.84 L473.6 1043.73 L474.6 1041.63 L475.6 1038.85 L476.6 1037.6 L477.6 1035.09 L478.6 1030.16 L479.6 1026.88 L480.6 1026.99 L481.6 1023.35 L482.6 1017.67 L483.6 1017.12 L484.6 1013.65 L485.6 1011.34 L486.6 1008.89 L487.6 1007.1 L488.6 1005.42 L489.6 1005.42 L490.6 1005.17 L491.6 1007.06 L492.6 1003.49 L493.6 1006.2 L494.6 1002.8 L495.6 1002.86 L496.6 1003.53 L497.6 1002.44 L498.6 999.71 L499.6 996.91 L500.6 997.15" fill="none" stroke="#f0a454" stroke-width="2.4" stroke-linejoin="round" stroke-linecap="round"/>
<text x="632.5" y="802.8" font-size="51">J</text>
<text x="790.47" y="840.3">Drum pos.</text>
<line x1="706" y1="864.7" x2="878.7" y2="884.2" stroke="#f0a454" stroke-width="1" stroke-linecap="butt" stroke-opacity="0.12"/>
<path d="M680 859.9 L682.76 859.64 L686.74 859.22 L691.03 859 L694.7 859.31 L697.51 860.25 L699.96 861.64 L702.2 863.39 L704.4 865.42 L706.52 867.7 L708.5 870.27 L710.48 873.15 L712.6 876.33 L714.92 879.91 L717.35 883.87 L719.83 887.98 L722.3 892.02 L724.74 895.94 L727.19 899.86 L729.65 903.7 L732.1 907.32 L734.59 910.93 L737.11 914.53 L739.57 918.14 L741.9 921.78 L744.04 925.53 L746.05 929.28 L748.01 932.85 L750 936.17 L752.01 939.19 L754 942.01 L756.04 944.61 L758.2 946.98 L760.52 949.24 L762.95 951.62 L765.43 953.73 L767.9 955.51 L770.19 956.79 L772.39 957.66 L774.79 958.41 L777.7 959.33 L781.32 960.71 L785.44 962.46 L789.77 964.12 L794 965.35 L798.23 966.07 L802.56 966.58 L806.68 966.93 L810.3 967.09 L813.36 967.07 L816.02 966.85 L818.27 966.44 L820.1 965.96 L821.32 965.31 L822.01 964.47 L822.54 963.25 L823.3 961.46 L824.37 958.97 L825.54 955.9 L826.82 952.48 L828.2 948.94 L829.67 945.28 L831.24 941.38 L832.92 937.4 L834.7 933.47 L836.63 929.72 L838.7 926 L840.82 922.33 L842.9 918.78 L844.93 915.32 L846.95 911.93 L848.97 908.7 L851 905.7 L853.01 902.98 L855 900.49 L857.04 898.17 L859.2 895.94 L861.48 893.61 L863.85 891.28 L866.32 889.11 L868.9 887.19 L871.63 885.64 L874.49 884.39 L877.41 883.2 L880.3 881.81 L883.11 879.92 L885.89 877.89 L888.73 875.86 L891.7 873.98 L894.94 872.28 L898.36 870.69 L901.72 869.19 L904.8 867.79 L907.5 866.42 L909.96 865.11 L912.26 863.97 L914.5 863.12 L916.85 862.67 L919.21 862.53 L921.26 862.53 L922.7 862.5 L922.7 868.5 L921.26 868.57 L919.21 868.66 L916.85 868.92 L914.5 869.48 L912.26 870.43 L909.96 871.68 L907.5 873.11 L904.8 874.61 L901.72 876.16 L898.36 877.81 L894.94 879.57 L891.7 881.42 L888.73 883.44 L885.89 885.61 L883.11 887.78 L880.3 889.79 L877.41 891.72 L874.49 893.49 L871.63 895.32 L868.9 897.41 L866.32 899.85 L863.85 902.51 L861.48 905.31 L859.2 908.26 L857.04 911.35 L855 914.49 L853.01 917.78 L851 921.3 L848.97 925.11 L846.95 929.15 L844.93 933.35 L842.9 937.62 L840.82 942 L838.7 946.52 L836.63 951.07 L834.7 955.53 L832.92 959.86 L831.24 964.22 L829.67 968.46 L828.2 972.46 L826.82 976.29 L825.54 980.01 L824.37 983.38 L823.3 986.14 L822.54 988.11 L822.01 989.47 L821.32 990.48 L820.1 991.44 L818.27 992.37 L816.02 992.96 L813.36 993.33 L810.3 993.51 L806.68 993.56 L802.56 993.44 L798.23 992.98 L794 992.05 L789.77 990.6 L785.44 988.74 L781.32 986.77 L777.7 984.87 L774.79 983.37 L772.39 982.14 L770.19 980.83 L767.9 979.09 L765.43 976.82 L762.95 974.21 L760.52 971.34 L758.2 968.02 L756.04 964.5 L754 960.81 L752.01 956.93 L750 952.83 L748.01 948.46 L746.05 943.84 L744.04 939.17 L741.9 934.62 L739.57 930.11 L737.11 925.57 L734.59 921.02 L732.1 916.48 L729.65 911.95 L727.19 907.64 L724.74 903.41 L722.3 899.18 L719.83 894.84 L717.35 890.42 L714.92 886.15 L712.6 882.27 L710.48 878.83 L708.5 875.71 L706.52 872.89 L704.4 870.38 L702.2 868.17 L699.96 866.24 L697.51 864.65 L694.7 863.49 L691.03 862.88 L686.74 862.76 L682.76 862.86 L680 862.9Z" fill="#f0a454" fill-opacity="0.4" stroke="none"/>
<path d="M680 861.4 L682.76 861.25 L686.74 860.99 L691.03 860.94 L694.7 861.4 L697.51 862.45 L699.96 863.94 L702.2 865.78 L704.4 867.9 L706.52 870.29 L708.5 872.99 L710.48 875.99 L712.6 879.3 L714.92 883.03 L717.35 887.14 L719.83 891.41 L722.3 895.6 L724.74 899.68 L727.19 903.75 L729.65 907.83 L732.1 911.9 L734.59 915.98 L737.11 920.05 L739.57 924.12 L741.9 928.2 L744.04 932.35 L746.05 936.56 L748.01 940.66 L750 944.5 L752.01 948.06 L754 951.41 L756.04 954.55 L758.2 957.5 L760.52 960.29 L762.95 962.91 L765.43 965.28 L767.9 967.3 L770.19 968.81 L772.39 969.9 L774.79 970.89 L777.7 972.1 L781.32 973.74 L785.44 975.6 L789.77 977.36 L794 978.7 L798.23 979.53 L802.56 980.01 L806.68 980.24 L810.3 980.3 L813.36 980.2 L816.02 979.91 L818.27 979.41 L820.1 978.7 L821.32 977.9 L822.01 976.97 L822.54 975.68 L823.3 973.8 L824.37 971.17 L825.54 967.96 L826.82 964.39 L828.2 960.7 L829.67 956.87 L831.24 952.8 L832.92 948.63 L834.7 944.5 L836.63 940.39 L838.7 936.26 L840.82 932.16 L842.9 928.2 L844.93 924.34 L846.95 920.54 L848.97 916.91 L851 913.5 L853.01 910.38 L855 907.49 L857.04 904.76 L859.2 902.1 L861.48 899.46 L863.85 896.89 L866.32 894.48 L868.9 892.3 L871.63 890.48 L874.49 888.94 L877.41 887.46 L880.3 885.8 L883.11 883.85 L885.89 881.75 L888.73 879.65 L891.7 877.7 L894.94 875.92 L898.36 874.25 L901.72 872.68 L904.8 871.2 L907.5 869.77 L909.96 868.39 L912.26 867.2 L914.5 866.3 L916.85 865.79 L919.21 865.59 L921.26 865.55 L922.7 865.5" fill="none" stroke="#f0a454" stroke-width="2.3" stroke-linejoin="round" stroke-linecap="round"/>
<path d="M680 879.1 L681.76 878.82 L684.29 878.4 L687.13 878.05 L689.8 877.97 L692.23 878.21 L694.65 878.66 L697.07 879.3 L699.5 880.15 L701.94 881.17 L704.39 882.39 L706.85 883.82 L709.3 885.52 L711.75 887.63 L714.2 890.08 L716.65 892.61 L719.1 894.96 L721.55 897.11 L724.01 899.18 L726.46 901.13 L728.9 902.9 L731.25 904.25 L733.54 905.37 L735.94 906.46 L738.6 907.69 L741.64 909.09 L744.94 910.58 L748.35 912.14 L751.7 913.84 L754.96 915.7 L758.21 917.62 L761.45 919.57 L764.7 921.51 L767.87 923.43 L770.99 925.36 L774.22 927.29 L777.7 929.19 L781.54 931.13 L785.64 933.1 L789.85 934.97 L794 936.7 L798.19 938.31 L802.46 939.83 L806.57 941.03 L810.3 941.71 L813.57 941.92 L816.51 941.61 L819.2 940.92 L821.7 939.99 L823.92 938.86 L825.85 937.49 L827.73 935.85 L829.8 933.92 L832.09 931.57 L834.49 928.84 L837 925.96 L839.6 923.17 L842.34 920.36 L845.2 917.49 L848.11 914.74 L851 912.3 L853.81 910.29 L856.6 908.6 L859.44 907.03 L862.4 905.42 L865.54 903.75 L868.79 902.07 L872.11 900.43 L875.4 898.84 L878.67 897.34 L881.95 895.87 L885.23 894.39 L888.5 892.9 L891.79 891.4 L895.11 889.89 L898.36 888.38 L901.5 886.87 L904.52 885.29 L907.45 883.68 L910.26 882.14 L912.9 880.77 L915.53 879.58 L918.11 878.5 L920.34 877.62 L921.9 877 L921.9 880 L920.34 880.74 L918.11 881.78 L915.53 883.04 L912.9 884.43 L910.26 885.98 L907.45 887.72 L904.52 889.54 L901.5 891.33 L898.36 893.07 L895.11 894.81 L891.79 896.55 L888.5 898.3 L885.23 900.02 L881.95 901.73 L878.67 903.49 L875.4 905.36 L872.11 907.3 L868.79 909.32 L865.54 911.35 L862.4 913.38 L859.44 915.27 L856.6 917.09 L853.81 919.04 L851 921.3 L848.11 924 L845.2 927.01 L842.34 930.15 L839.6 933.23 L837 936.37 L834.49 939.57 L832.09 942.62 L829.8 945.28 L827.73 947.49 L825.85 949.37 L823.92 950.94 L821.7 952.21 L819.2 953.3 L816.51 954.18 L813.57 954.69 L810.3 954.69 L806.57 953.85 L802.46 952.45 L798.19 950.72 L794 948.9 L789.85 946.96 L785.64 944.75 L781.54 942.46 L777.7 940.21 L774.22 938.02 L770.99 935.84 L767.87 933.66 L764.7 931.49 L761.45 929.33 L758.21 927.17 L754.96 925.03 L751.7 922.96 L748.35 920.82 L744.94 918.62 L741.64 916.5 L738.6 914.51 L735.94 912.78 L733.54 911.24 L731.25 909.68 L728.9 907.9 L726.46 905.99 L724.01 903.92 L721.55 901.72 L719.1 899.44 L716.65 896.96 L714.2 894.3 L711.75 891.72 L709.3 889.48 L706.85 887.61 L704.39 886.01 L701.94 884.64 L699.5 883.45 L697.07 882.44 L694.65 881.63 L692.23 881.03 L689.8 880.63 L687.13 880.52 L684.29 880.69 L681.76 880.94 L680 881.1Z" fill="#0cb465" fill-opacity="0.45" stroke="none"/>
<path d="M680 880.1 L681.76 879.88 L684.29 879.54 L687.13 879.29 L689.8 879.3 L692.23 879.62 L694.65 880.14 L697.07 880.87 L699.5 881.8 L701.94 882.91 L704.39 884.2 L706.85 885.72 L709.3 887.5 L711.75 889.68 L714.2 892.19 L716.65 894.79 L719.1 897.2 L721.55 899.41 L724.01 901.55 L726.46 903.56 L728.9 905.4 L731.25 906.96 L733.54 908.31 L735.94 909.62 L738.6 911.1 L741.64 912.79 L744.94 914.6 L748.35 916.48 L751.7 918.4 L754.96 920.37 L758.21 922.39 L761.45 924.45 L764.7 926.5 L767.87 928.55 L770.99 930.6 L774.22 932.65 L777.7 934.7 L781.54 936.8 L785.64 938.93 L789.85 940.97 L794 942.8 L798.19 944.52 L802.46 946.14 L806.57 947.44 L810.3 948.2 L813.57 948.31 L816.51 947.89 L819.2 947.11 L821.7 946.1 L823.92 944.9 L825.85 943.43 L827.73 941.67 L829.8 939.6 L832.09 937.09 L834.49 934.21 L837 931.16 L839.6 928.2 L842.34 925.26 L845.2 922.25 L848.11 919.37 L851 916.8 L853.81 914.67 L856.6 912.84 L859.44 911.15 L862.4 909.4 L865.54 907.55 L868.79 905.69 L872.11 903.87 L875.4 902.1 L878.67 900.42 L881.95 898.8 L885.23 897.21 L888.5 895.6 L891.79 893.98 L895.11 892.35 L898.36 890.73 L901.5 889.1 L904.52 887.42 L907.45 885.7 L910.26 884.06 L912.9 882.6 L915.53 881.31 L918.11 880.14 L920.34 879.18 L921.9 878.5" fill="none" stroke="#0cb465" stroke-width="2.6" stroke-linejoin="round" stroke-linecap="round"/>
<path d="M679.8 848.6 L680.41 848.61 L681.01 848.64 L681.62 848.7 L682.22 848.78 L682.83 848.88 L683.44 849 L684.04 849.14 L684.65 849.31 L685.25 849.49 L685.86 849.7 L686.47 849.93 L687.07 850.19 L687.68 850.46 L688.28 850.76 L688.89 851.08 L689.5 851.41 L690.1 851.78 L690.71 852.16 L691.31 852.56 L691.92 852.99 L692.53 853.43 L693.13 853.9 L693.74 854.38 L694.34 854.89 L694.95 855.42 L695.56 855.97 L696.16 856.54 L696.77 857.13 L697.37 857.74 L697.98 858.37 L698.59 859.01 L699.19 859.68 L699.8 860.37 L700.4 861.08 L701.01 861.8 L701.62 862.55 L702.22 863.31 L702.83 864.09 L703.43 864.89 L704.04 865.71 L704.65 866.55 L705.25 867.4 L705.86 868.27 L706.46 869.16 L707.07 870.07 L707.68 870.99 L708.28 871.93 L708.89 872.88 L709.49 873.86 L710.1 874.84 L710.71 875.85 L711.31 876.86 L711.92 877.9 L712.52 878.95 L713.13 880.01 L713.74 881.09 L714.34 882.18 L714.95 883.28 L715.55 884.4 L716.16 885.53 L716.77 886.68 L717.37 887.84 L717.98 889.01 L718.58 890.19 L719.19 891.38 L719.8 892.59 L720.4 893.81 L721.01 895.03 L721.61 896.27 L722.22 897.52 L722.83 898.78 L723.43 900.05 L724.04 901.33 L724.64 902.62 L725.25 903.91 L725.86 905.22 L726.46 906.53 L727.07 907.85 L727.67 909.18 L728.28 910.51 L728.89 911.85 L729.49 913.2 L730.1 914.56 L730.7 915.92 L731.31 917.28 L731.92 918.65 L732.52 920.03 L733.13 921.41 L733.73 922.8 L734.34 924.18 L734.95 925.58 L735.55 926.97 L736.16 928.37 L736.76 929.77 L737.37 931.17 L737.98 932.57 L738.58 933.98 L739.19 935.39 L739.79 936.79 L740.4 938.2 L741.01 939.61 L741.61 941.01 L742.22 942.42 L742.82 943.83 L743.43 945.23 L744.04 946.63 L744.64 948.03 L745.25 949.43 L745.85 950.82 L746.46 952.22 L747.07 953.6 L747.67 954.99 L748.28 956.37 L748.88 957.75 L749.49 959.12 L750.1 960.48 L750.7 961.84 L751.31 963.2 L751.91 964.55 L752.52 965.89 L753.13 967.22 L753.73 968.55 L754.34 969.87 L754.94 971.18 L755.55 972.49 L756.16 973.78 L756.76 975.07 L757.37 976.35 L757.97 977.62 L758.58 978.88 L759.19 980.13 L759.79 981.37 L760.4 982.59 L761 983.81 L761.61 985.02 L762.22 986.21 L762.82 987.39 L763.43 988.56 L764.03 989.72 L764.64 990.87 L765.25 992 L765.85 993.12 L766.46 994.22 L767.06 995.31 L767.67 996.39 L768.28 997.45 L768.88 998.5 L769.49 999.54 L770.09 1000.55 L770.7 1001.56 L771.31 1002.54 L771.91 1003.52 L772.52 1004.47 L773.12 1005.41 L773.73 1006.33 L774.34 1007.24 L774.94 1008.13 L775.55 1009 L776.15 1009.85 L776.76 1010.69 L777.37 1011.51 L777.97 1012.31 L778.58 1013.09 L779.18 1013.85 L779.79 1014.6 L780.4 1015.32 L781 1016.03 L781.61 1016.72 L782.21 1017.39 L782.82 1018.03 L783.43 1018.66 L784.03 1019.27 L784.64 1019.86 L785.24 1020.43 L785.85 1020.98 L786.46 1021.51 L787.06 1022.02 L787.67 1022.5 L788.27 1022.97 L788.88 1023.41 L789.49 1023.84 L790.09 1024.24 L790.7 1024.62 L791.3 1024.99 L791.91 1025.32 L792.52 1025.64 L793.12 1025.94 L793.73 1026.21 L794.33 1026.47 L794.94 1026.7 L795.55 1026.91 L796.15 1027.09 L796.76 1027.26 L797.36 1027.4 L797.97 1027.52 L798.58 1027.62 L799.18 1027.7 L799.79 1027.76 L800.39 1027.79 L801 1027.8 L801.61 1027.79 L802.21 1027.76 L802.82 1027.7 L803.42 1027.62 L804.03 1027.52 L804.64 1027.4 L805.24 1027.26 L805.85 1027.09 L806.45 1026.91 L807.06 1026.7 L807.67 1026.47 L808.27 1026.21 L808.88 1025.94 L809.48 1025.64 L810.09 1025.32 L810.7 1024.99 L811.3 1024.62 L811.91 1024.24 L812.51 1023.84 L813.12 1023.41 L813.73 1022.97 L814.33 1022.5 L814.94 1022.02 L815.54 1021.51 L816.15 1020.98 L816.76 1020.43 L817.36 1019.86 L817.97 1019.27 L818.57 1018.66 L819.18 1018.03 L819.79 1017.39 L820.39 1016.72 L821 1016.03 L821.6 1015.32 L822.21 1014.6 L822.82 1013.85 L823.42 1013.09 L824.03 1012.31 L824.63 1011.51 L825.24 1010.69 L825.85 1009.85 L826.45 1009 L827.06 1008.13 L827.66 1007.24 L828.27 1006.33 L828.88 1005.41 L829.48 1004.47 L830.09 1003.52 L830.69 1002.54 L831.3 1001.56 L831.91 1000.55 L832.51 999.54 L833.12 998.5 L833.72 997.45 L834.33 996.39 L834.94 995.31 L835.54 994.22 L836.15 993.12 L836.75 992 L837.36 990.87 L837.97 989.72 L838.57 988.56 L839.18 987.39 L839.78 986.21 L840.39 985.02 L841 983.81 L841.6 982.59 L842.21 981.37 L842.81 980.13 L843.42 978.88 L844.03 977.62 L844.63 976.35 L845.24 975.07 L845.84 973.78 L846.45 972.49 L847.06 971.18 L847.66 969.87 L848.27 968.55 L848.87 967.22 L849.48 965.89 L850.09 964.55 L850.69 963.2 L851.3 961.84 L851.9 960.48 L852.51 959.12 L853.12 957.75 L853.72 956.37 L854.33 954.99 L854.93 953.6 L855.54 952.22 L856.15 950.82 L856.75 949.43 L857.36 948.03 L857.96 946.63 L858.57 945.23 L859.18 943.83 L859.78 942.42 L860.39 941.01 L860.99 939.61 L861.6 938.2 L862.21 936.79 L862.81 935.39 L863.42 933.98 L864.02 932.57 L864.63 931.17 L865.24 929.77 L865.84 928.37 L866.45 926.97 L867.05 925.58 L867.66 924.18 L868.27 922.8 L868.87 921.41 L869.48 920.03 L870.08 918.65 L870.69 917.28 L871.3 915.92 L871.9 914.56 L872.51 913.2 L873.11 911.85 L873.72 910.51 L874.33 909.18 L874.93 907.85 L875.54 906.53 L876.14 905.22 L876.75 903.91 L877.36 902.62 L877.96 901.33 L878.57 900.05 L879.17 898.78 L879.78 897.52 L880.39 896.27 L880.99 895.03 L881.6 893.81 L882.2 892.59 L882.81 891.38 L883.42 890.19 L884.02 889.01 L884.63 887.84 L885.23 886.68 L885.84 885.53 L886.45 884.4 L887.05 883.28 L887.66 882.18 L888.26 881.09 L888.87 880.01 L889.48 878.95 L890.08 877.9 L890.69 876.86 L891.29 875.85 L891.9 874.84 L892.51 873.86 L893.11 872.88 L893.72 871.93 L894.32 870.99 L894.93 870.07 L895.54 869.16 L896.14 868.27 L896.75 867.4 L897.35 866.55 L897.96 865.71 L898.57 864.89 L899.17 864.09 L899.78 863.31 L900.38 862.55 L900.99 861.8 L901.6 861.08 L902.2 860.37 L902.81 859.68 L903.41 859.01 L904.02 858.37 L904.63 857.74 L905.23 857.13 L905.84 856.54 L906.44 855.97 L907.05 855.42 L907.66 854.89 L908.26 854.38 L908.87 853.9 L909.47 853.43 L910.08 852.99 L910.69 852.56 L911.29 852.16 L911.9 851.78 L912.5 851.41 L913.11 851.08 L913.72 850.76 L914.32 850.46 L914.93 850.19 L915.53 849.93 L916.14 849.7 L916.75 849.49 L917.35 849.31 L917.96 849.14 L918.56 849 L919.17 848.88 L919.78 848.78 L920.38 848.7 L920.99 848.64 L921.59 848.61 L922.2 848.6" fill="none" stroke="#000" stroke-width="1.6" stroke-linejoin="round" stroke-linecap="round"/>
<path d="M952.8 876.3 L937.2 876.3 L937.2 1003.3 L952.8 1003.3" fill="none" stroke="#000" stroke-width="1.6" stroke-linejoin="round" stroke-linecap="round"/>
<text x="947.31" y="947.3">5°</text>
<line x1="679.8" y1="1035.6" x2="924.9" y2="1035.6" stroke="#000" stroke-width="1.6" stroke-linecap="butt"/>
<line x1="680.4" y1="1035.6" x2="680.4" y2="1047" stroke="#000" stroke-width="1.6" stroke-linecap="butt"/>
<line x1="740.6" y1="1035.6" x2="740.6" y2="1047" stroke="#000" stroke-width="1.6" stroke-linecap="butt"/>
<line x1="800.3" y1="1035.6" x2="800.3" y2="1047" stroke="#000" stroke-width="1.6" stroke-linecap="butt"/>
<line x1="860.8" y1="1035.6" x2="860.8" y2="1047" stroke="#000" stroke-width="1.6" stroke-linecap="butt"/>
<line x1="920.9" y1="1035.6" x2="920.9" y2="1047" stroke="#000" stroke-width="1.6" stroke-linecap="butt"/>
<text x="657.99" y="1080.5">-5.0</text>
<text x="781.39" y="1080.5">0.0</text>
<text x="904.91" y="1080.5">5.0</text>
<text x="752.19" y="1113">Time (s)</text>
<text x="984.12" y="802.8" font-size="51">K</text>
<line x1="1118.5" y1="848.8" x2="1118.5" y2="1075.5" stroke="#000" stroke-width="1.6" stroke-linecap="butt"/>
<line x1="1109.5" y1="1075.5" x2="1118.5" y2="1075.5" stroke="#000" stroke-width="1.6" stroke-linecap="butt"/>
<line x1="1112.5" y1="1037.85" x2="1118.5" y2="1037.85" stroke="#000" stroke-width="1.6" stroke-linecap="butt"/>
<line x1="1109.5" y1="1000.2" x2="1118.5" y2="1000.2" stroke="#000" stroke-width="1.6" stroke-linecap="butt"/>
<line x1="1112.5" y1="962.55" x2="1118.5" y2="962.55" stroke="#000" stroke-width="1.6" stroke-linecap="butt"/>
<line x1="1109.5" y1="924.9" x2="1118.5" y2="924.9" stroke="#000" stroke-width="1.6" stroke-linecap="butt"/>
<line x1="1112.5" y1="887.25" x2="1118.5" y2="887.25" stroke="#000" stroke-width="1.6" stroke-linecap="butt"/>
<line x1="1109.5" y1="849.6" x2="1118.5" y2="849.6" stroke="#000" stroke-width="1.6" stroke-linecap="butt"/>
<line x1="1109.5" y1="1075.5" x2="1230.7" y2="1075.5" stroke="#000" stroke-width="1.6" stroke-linecap="butt"/>
<line x1="1141.1" y1="1075.5" x2="1141.1" y2="1083.1" stroke="#000" stroke-width="1.6" stroke-linecap="butt"/>
<line x1="1206.5" y1="1075.5" x2="1206.5" y2="1083.1" stroke="#000" stroke-width="1.6" stroke-linecap="butt"/>
<text x="1062.94" y="858">0.6</text>
<text x="1062.94" y="933.4">0.4</text>
<text x="1062.94" y="1008.6">0.2</text>
<text x="1062.94" y="1084">0.0</text>
<text transform="translate(1052 985.45) rotate(-90)" font-size="26.8">Gain</text>
<text x="1113.89" y="1113.7">Xen.</text>
<text x="1182.55" y="1113.7">Axo.</text>
<line x1="1135.5" y1="868" x2="1206.7" y2="868" stroke="#000" stroke-width="1.9" stroke-linecap="butt"/>
<text x="1165.48" y="873.2" font-size="32">*</text>
<circle cx="1141.1" cy="1005.7" r="6.2" fill="#16b06a" fill-opacity="0.45"/>
<circle cx="1136.1" cy="1012.4" r="6.2" fill="#16b06a" fill-opacity="0.45"/>
<circle cx="1147.7" cy="1015.7" r="6.2" fill="#16b06a" fill-opacity="0.45"/>
<circle cx="1133.8" cy="1020.7" r="6.2" fill="#16b06a" fill-opacity="0.45"/>
<circle cx="1141.1" cy="1025.7" r="6.2" fill="#16b06a" fill-opacity="0.45"/>
<circle cx="1147.7" cy="1025.7" r="6.2" fill="#16b06a" fill-opacity="0.45"/>
<circle cx="1141.1" cy="1043.9" r="6.2" fill="#16b06a" fill-opacity="0.45"/>
<circle cx="1206.5" cy="912.7" r="6.2" fill="#f4ac68" fill-opacity="0.45"/>
<circle cx="1206.5" cy="942.6" r="6.2" fill="#f4ac68" fill-opacity="0.45"/>
<circle cx="1203.5" cy="962.6" r="6.2" fill="#f4ac68" fill-opacity="0.45"/>
<circle cx="1210.8" cy="970.9" r="6.2" fill="#f4ac68" fill-opacity="0.45"/>
<circle cx="1204.2" cy="979.2" r="6.2" fill="#f4ac68" fill-opacity="0.45"/>
<circle cx="1207.5" cy="1004.1" r="6.2" fill="#f4ac68" fill-opacity="0.45"/>
<circle cx="1206.5" cy="1022.3" r="6.2" fill="#f4ac68" fill-opacity="0.45"/>
<line x1="1141.1" y1="1008.4" x2="1141.1" y2="1035" stroke="#16a060" stroke-width="2.2" stroke-linecap="butt"/>
<line x1="1133.8" y1="1008.4" x2="1148.4" y2="1008.4" stroke="#16a060" stroke-width="2.2" stroke-linecap="butt"/>
<line x1="1133.8" y1="1035" x2="1148.4" y2="1035" stroke="#16a060" stroke-width="2.2" stroke-linecap="butt"/>
<line x1="1127.8" y1="1021.7" x2="1154.4" y2="1021.7" stroke="#16a060" stroke-width="2.8" stroke-linecap="butt"/>
<line x1="1206.5" y1="945" x2="1206.5" y2="1014.7" stroke="#f0a050" stroke-width="2.2" stroke-linecap="butt"/>
<line x1="1199.5" y1="945" x2="1213.5" y2="945" stroke="#f0a050" stroke-width="2.2" stroke-linecap="butt"/>
<line x1="1199.5" y1="1014.7" x2="1213.5" y2="1014.7" stroke="#f0a050" stroke-width="2.2" stroke-linecap="butt"/>
<line x1="1192.4" y1="979.8" x2="1220.6" y2="979.8" stroke="#f0a050" stroke-width="2.8" stroke-linecap="butt"/>
<text x="1250.12" y="802.8" font-size="51">L</text>
<circle cx="1410.1" cy="963.7" r="109.2" fill="none" stroke="#333" stroke-width="1.3"/>
<line x1="1289.2" y1="963.7" x2="1531.4" y2="963.7" stroke="#444" stroke-width="1.3" stroke-linecap="butt"/>
<line x1="1410.1" y1="844" x2="1410.1" y2="1083.9" stroke="#444" stroke-width="1.3" stroke-linecap="butt"/>
<text x="1396.14" y="835.7">0°</text>
<text x="1380.13" y="1113.8">180°</text>
<text x="1428.02" y="843" fill="#f0a454">6°</text>
<text x="1452.93" y="856.3" fill="#0cb465">13°</text>
<circle cx="1374.6" cy="863" r="6.4" fill="#f4ac68" fill-opacity="0.3"/>
<circle cx="1386.2" cy="862.3" r="6.4" fill="#f4ac68" fill-opacity="0.3"/>
<circle cx="1401.1" cy="859.6" r="6.4" fill="#f4ac68" fill-opacity="0.3"/>
<circle cx="1426.1" cy="869.6" r="6.4" fill="#f4ac68" fill-opacity="0.3"/>
<circle cx="1442.7" cy="864.6" r="6.4" fill="#f4ac68" fill-opacity="0.3"/>
<circle cx="1455.9" cy="870.3" r="6.4" fill="#f4ac68" fill-opacity="0.3"/>
<circle cx="1415.1" cy="857" r="6.4" fill="#16b06a" fill-opacity="0.5"/>
<circle cx="1424.4" cy="858" r="6.4" fill="#16b06a" fill-opacity="0.5"/>
<circle cx="1429.4" cy="859.6" r="6.4" fill="#16b06a" fill-opacity="0.5"/>
<circle cx="1439.4" cy="863" r="6.4" fill="#16b06a" fill-opacity="0.5"/>
<circle cx="1464.3" cy="875.6" r="6.4" fill="#16b06a" fill-opacity="0.5"/>
<line x1="1410.1" y1="963.7" x2="1419.07" y2="864.44" stroke="#f0a454" stroke-width="2.4" stroke-linecap="butt"/>
<path d="M1420.4 849.7 L1423.96 868.6 L1418.85 866.84 L1413.51 867.65Z" fill="#f0a454"/>
<line x1="1410.1" y1="963.7" x2="1433.51" y2="867.38" stroke="#0cb465" stroke-width="2.4" stroke-linecap="butt"/>
<path d="M1437 853 L1437.73 872.22 L1432.94 869.72 L1427.53 869.74Z" fill="#0cb465"/>
</svg>
</body></html>
